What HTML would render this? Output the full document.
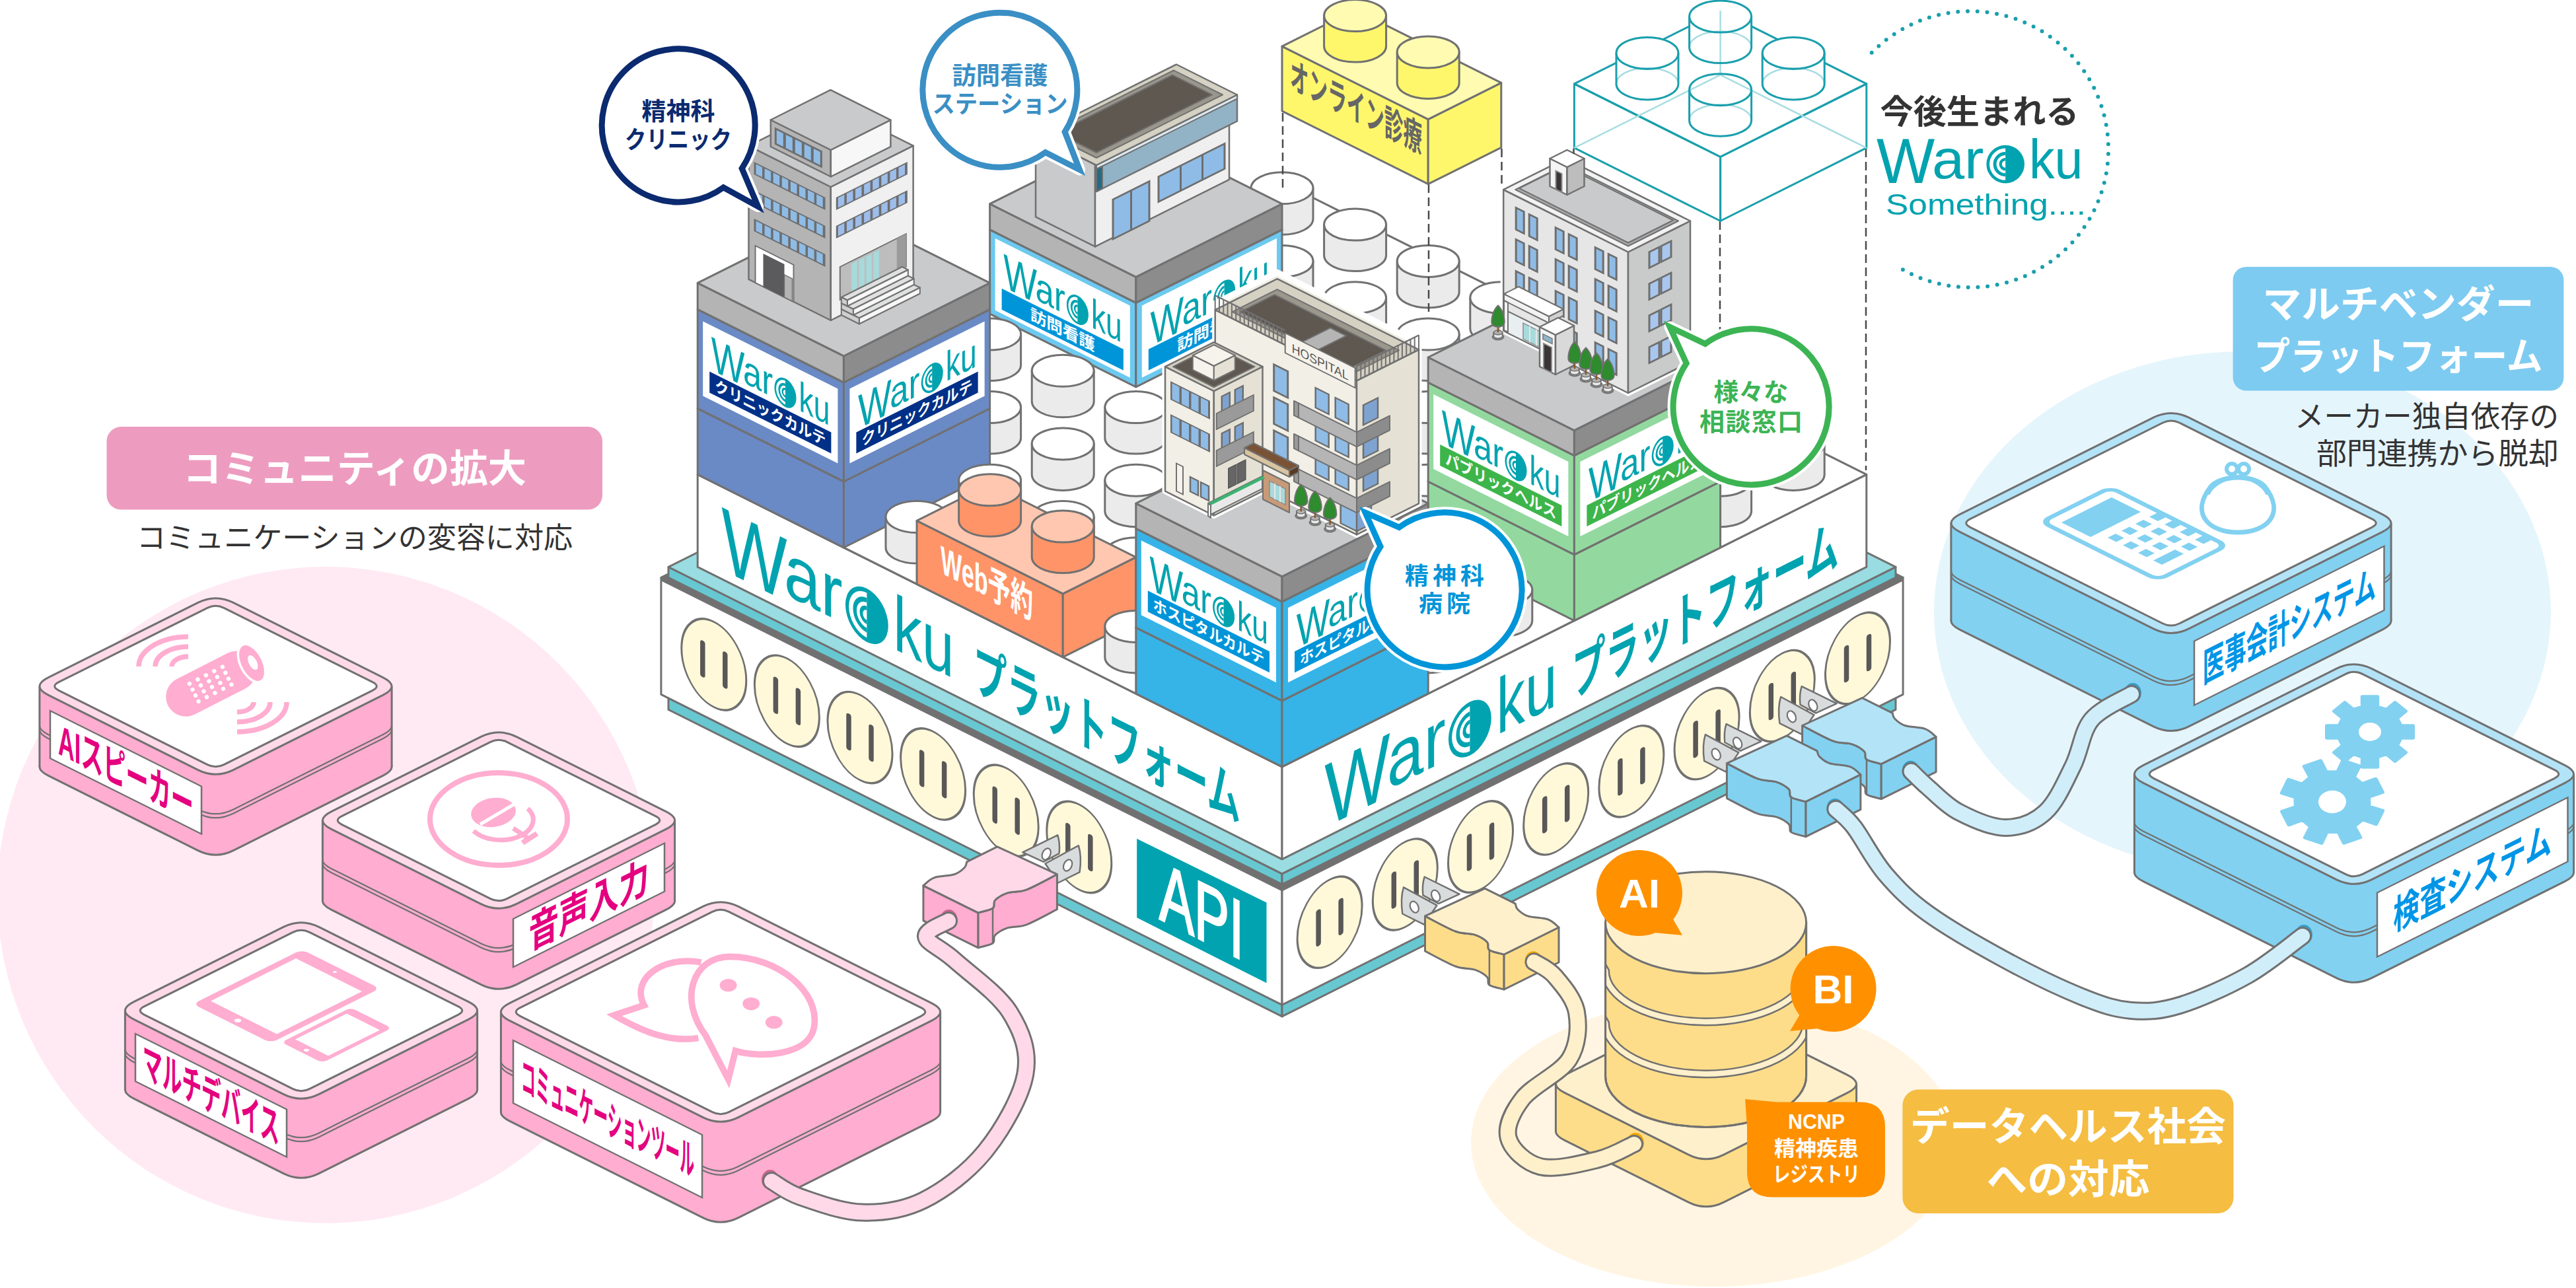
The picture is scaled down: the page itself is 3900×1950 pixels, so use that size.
<!DOCTYPE html>
<html lang="ja"><head><meta charset="utf-8"><title>Waroku platform</title>
<style>
html,body{margin:0;padding:0;background:#fff;}
body{width:3900px;height:1950px;overflow:hidden;}
svg{display:block;}
text{font-family:"Liberation Sans","Noto Sans CJK JP",sans-serif;}
.jp{font-family:"Liberation Sans","Noto Sans CJK JP",sans-serif;}
.b{font-weight:700;}
.m{font-weight:500;}
</style></head><body>
<svg width="3900" height="1950" viewBox="0 0 3900 1950">
<defs>
<g id="mark">
<circle r="100" fill="#00a3af"/>
<path d="M0,-84 A84,84 0 0 0 0,84 Z" fill="#fff"/>
<path d="M0,-56 A56,56 0 0 0 0,56" fill="none" stroke="#00a3af" stroke-width="17"/>
<path d="M0,-26 A26,26 0 0 0 0,26" fill="none" stroke="#00a3af" stroke-width="15"/>
</g>
</defs>
<rect width="3900" height="1950" fill="#fff"/>
<circle cx="493" cy="1355" r="497" fill="#ffeaf3"/>
<ellipse cx="3395" cy="926" rx="467" ry="394" fill="#e5f5fc"/>
<ellipse cx="2595" cy="1730" rx="368" ry="218" fill="#fff5e2"/>
<rect x="161.5" y="646" width="750.5" height="125.6" rx="22" fill="#ed9cc0"/>
<text x="537" y="730" font-size="58" fill="#fff" text-anchor="middle" class="b" textLength="520" lengthAdjust="spacingAndGlyphs" >コミュニティの拡大</text>
<text x="537" y="830" font-size="44" fill="#333" text-anchor="middle" textLength="660" lengthAdjust="spacingAndGlyphs" >コミュニケーションの変容に対応</text>
<rect x="3380.6" y="404" width="500.8" height="187.6" rx="20" fill="#7ecbf1"/>
<text x="3631" y="481" font-size="58" fill="#fff" text-anchor="middle" class="b" textLength="411" lengthAdjust="spacingAndGlyphs" >マルチベンダー</text>
<text x="3631" y="560" font-size="58" fill="#fff" text-anchor="middle" class="b" textLength="437" lengthAdjust="spacingAndGlyphs" >プラットフォーム</text>
<text x="3874" y="647" font-size="45" fill="#333" text-anchor="end" textLength="400" lengthAdjust="spacingAndGlyphs" >メーカー独自依存の</text>
<text x="3874" y="703" font-size="45" fill="#333" text-anchor="end" textLength="367" lengthAdjust="spacingAndGlyphs" >部門連携から脱却</text>
<rect x="2880.4" y="1649.5" width="501.1" height="187.5" rx="24" fill="#f5bd41"/>
<text x="3131" y="1727" font-size="60" fill="#fff" text-anchor="middle" class="b" textLength="478" lengthAdjust="spacingAndGlyphs" >データヘルス社会</text>
<text x="3131" y="1807" font-size="60" fill="#fff" text-anchor="middle" class="b" textLength="247" lengthAdjust="spacingAndGlyphs" >への対応</text>
<polygon points="1012,1051.4 1941,1515.9 1941,1538.9 1012,1074.4" fill="#68c8d2" stroke="#717171" stroke-width="3" stroke-linejoin="round" /><polygon points="1941,1515.9 2870,1051.4 2870,1074.4 1941,1538.9" fill="#68c8d2" stroke="#717171" stroke-width="3" stroke-linejoin="round" /><polygon points="1941,586.9 2870,1051.4 1941,1515.9 1012,1051.4" fill="#68c8d2" stroke="#717171" stroke-width="3" stroke-linejoin="round" /><polygon points="1000.9,874.4 1941,1344.4 1941,1521.4 1000.9,1051.4" fill="#fff" stroke="#717171" stroke-width="3" stroke-linejoin="round" /><polygon points="1941,1344.4 2881.1,874.4 2881.1,1051.4 1941,1521.4" fill="#fff" stroke="#717171" stroke-width="3" stroke-linejoin="round" /><polygon points="1941,404.4 2881.1,874.4 1941,1344.4 1000.9,874.4" fill="#717171" stroke="#717171" stroke-width="3" stroke-linejoin="round" /><polygon points="1000.9,874.4 1941,1344.4 1941,1349.4 1000.9,879.4" fill="#717171" /><polygon points="1941,1344.4 2881.1,874.4 2881.1,879.4 1941,1349.4" fill="#717171" /><g transform="matrix(1,0.5,0,1,1080.8,1006)"><ellipse rx="49" ry="64.5" fill="#fff9d9" stroke="#717171" stroke-width="3"/><line x1="-17" y1="-24" x2="-17" y2="24" stroke="#595757" stroke-width="7.5" stroke-linecap="round"/><line x1="17" y1="-24" x2="17" y2="24" stroke="#595757" stroke-width="7.5" stroke-linecap="round"/></g><g transform="matrix(1,0.5,0,1,1191.4,1061.3)"><ellipse rx="49" ry="64.5" fill="#fff9d9" stroke="#717171" stroke-width="3"/><line x1="-17" y1="-24" x2="-17" y2="24" stroke="#595757" stroke-width="7.5" stroke-linecap="round"/><line x1="17" y1="-24" x2="17" y2="24" stroke="#595757" stroke-width="7.5" stroke-linecap="round"/></g><g transform="matrix(1,0.5,0,1,1302,1116.6)"><ellipse rx="49" ry="64.5" fill="#fff9d9" stroke="#717171" stroke-width="3"/><line x1="-17" y1="-24" x2="-17" y2="24" stroke="#595757" stroke-width="7.5" stroke-linecap="round"/><line x1="17" y1="-24" x2="17" y2="24" stroke="#595757" stroke-width="7.5" stroke-linecap="round"/></g><g transform="matrix(1,0.5,0,1,1412.6,1171.9)"><ellipse rx="49" ry="64.5" fill="#fff9d9" stroke="#717171" stroke-width="3"/><line x1="-17" y1="-24" x2="-17" y2="24" stroke="#595757" stroke-width="7.5" stroke-linecap="round"/><line x1="17" y1="-24" x2="17" y2="24" stroke="#595757" stroke-width="7.5" stroke-linecap="round"/></g><g transform="matrix(1,0.5,0,1,1523.2,1227.2)"><ellipse rx="49" ry="64.5" fill="#fff9d9" stroke="#717171" stroke-width="3"/><line x1="-17" y1="-24" x2="-17" y2="24" stroke="#595757" stroke-width="7.5" stroke-linecap="round"/><line x1="17" y1="-24" x2="17" y2="24" stroke="#595757" stroke-width="7.5" stroke-linecap="round"/></g><g transform="matrix(1,0.5,0,1,1633.8,1282.5)"><ellipse rx="49" ry="64.5" fill="#fff9d9" stroke="#717171" stroke-width="3"/><line x1="-17" y1="-24" x2="-17" y2="24" stroke="#595757" stroke-width="7.5" stroke-linecap="round"/><line x1="17" y1="-24" x2="17" y2="24" stroke="#595757" stroke-width="7.5" stroke-linecap="round"/></g><g transform="matrix(1,-0.5,0,1,2812.5,996.5)"><ellipse rx="49" ry="64.5" fill="#fff9d9" stroke="#717171" stroke-width="3"/><line x1="-17" y1="-24" x2="-17" y2="24" stroke="#595757" stroke-width="7.5" stroke-linecap="round"/><line x1="17" y1="-24" x2="17" y2="24" stroke="#595757" stroke-width="7.5" stroke-linecap="round"/></g><g transform="matrix(1,-0.5,0,1,2698.3,1053.6)"><ellipse rx="49" ry="64.5" fill="#fff9d9" stroke="#717171" stroke-width="3"/><line x1="-17" y1="-24" x2="-17" y2="24" stroke="#595757" stroke-width="7.5" stroke-linecap="round"/><line x1="17" y1="-24" x2="17" y2="24" stroke="#595757" stroke-width="7.5" stroke-linecap="round"/></g><g transform="matrix(1,-0.5,0,1,2584.1,1110.7)"><ellipse rx="49" ry="64.5" fill="#fff9d9" stroke="#717171" stroke-width="3"/><line x1="-17" y1="-24" x2="-17" y2="24" stroke="#595757" stroke-width="7.5" stroke-linecap="round"/><line x1="17" y1="-24" x2="17" y2="24" stroke="#595757" stroke-width="7.5" stroke-linecap="round"/></g><g transform="matrix(1,-0.5,0,1,2469.9,1167.8)"><ellipse rx="49" ry="64.5" fill="#fff9d9" stroke="#717171" stroke-width="3"/><line x1="-17" y1="-24" x2="-17" y2="24" stroke="#595757" stroke-width="7.5" stroke-linecap="round"/><line x1="17" y1="-24" x2="17" y2="24" stroke="#595757" stroke-width="7.5" stroke-linecap="round"/></g><g transform="matrix(1,-0.5,0,1,2355.7,1224.9)"><ellipse rx="49" ry="64.5" fill="#fff9d9" stroke="#717171" stroke-width="3"/><line x1="-17" y1="-24" x2="-17" y2="24" stroke="#595757" stroke-width="7.5" stroke-linecap="round"/><line x1="17" y1="-24" x2="17" y2="24" stroke="#595757" stroke-width="7.5" stroke-linecap="round"/></g><g transform="matrix(1,-0.5,0,1,2241.5,1282)"><ellipse rx="49" ry="64.5" fill="#fff9d9" stroke="#717171" stroke-width="3"/><line x1="-17" y1="-24" x2="-17" y2="24" stroke="#595757" stroke-width="7.5" stroke-linecap="round"/><line x1="17" y1="-24" x2="17" y2="24" stroke="#595757" stroke-width="7.5" stroke-linecap="round"/></g><g transform="matrix(1,-0.5,0,1,2127.3,1339.1)"><ellipse rx="49" ry="64.5" fill="#fff9d9" stroke="#717171" stroke-width="3"/><line x1="-17" y1="-24" x2="-17" y2="24" stroke="#595757" stroke-width="7.5" stroke-linecap="round"/><line x1="17" y1="-24" x2="17" y2="24" stroke="#595757" stroke-width="7.5" stroke-linecap="round"/></g><g transform="matrix(1,-0.5,0,1,2013.1,1396.2)"><ellipse rx="49" ry="64.5" fill="#fff9d9" stroke="#717171" stroke-width="3"/><line x1="-17" y1="-24" x2="-17" y2="24" stroke="#595757" stroke-width="7.5" stroke-linecap="round"/><line x1="17" y1="-24" x2="17" y2="24" stroke="#595757" stroke-width="7.5" stroke-linecap="round"/></g><polygon points="1721.2,1269.8 1917.5,1366.6 1917.5,1488.2 1721.2,1389.3" fill="#00a3af" /><g transform="matrix(1,0.5,0,1,1755,1391)" ><text x="0" y="0" font-size="126" fill="#fff" text-anchor="start" textLength="128" lengthAdjust="spacingAndGlyphs" stroke="#fff" stroke-width="3">API</text></g><polygon points="1012,858.4 1941,1322.9 1941,1338.9 1012,874.4" fill="#68c8d2" stroke="#717171" stroke-width="3" stroke-linejoin="round" /><polygon points="1941,1322.9 2870,858.4 2870,874.4 1941,1338.9" fill="#68c8d2" stroke="#717171" stroke-width="3" stroke-linejoin="round" /><polygon points="1941,393.9 2870,858.4 1941,1322.9 1012,858.4" fill="#99dce1" stroke="#717171" stroke-width="3" stroke-linejoin="round" /><polygon points="1056.2,718.4 1941,1160.8 1941,1300.8 1056.2,858.4" fill="#fff" stroke="#717171" stroke-width="3" stroke-linejoin="round" /><polygon points="1941,1160.8 2825.8,718.4 2825.8,858.4 1941,1300.8" fill="#fff" stroke="#717171" stroke-width="3" stroke-linejoin="round" /><polygon points="1941,276 2825.8,718.4 1941,1160.8 1056.2,718.4" fill="#fff" stroke="#717171" stroke-width="3" stroke-linejoin="round" /><g transform="matrix(0.8,0.4,0,1,1093,852)" ><title>Waroku</title><text x="-0.8" y="10.1" font-size="136.9" fill="#00a3af" text-anchor="start" textLength="124.2" lengthAdjust="spacingAndGlyphs" >W</text><text x="117.5" y="0" font-size="118" fill="#00a3af" text-anchor="start" textLength="110.7" lengthAdjust="spacingAndGlyphs" >ar</text><use href="#mark" transform="translate(274.2,-30.2) scale(0.4056)"/><text x="324.5" y="0" font-size="118" fill="#00a3af" text-anchor="start" textLength="114.9" lengthAdjust="spacingAndGlyphs" >ku</text></g><g transform="matrix(1,0.5,0,1,1474,1043)" ><text x="0" y="0" font-size="88" fill="#00a3af" text-anchor="start" class="b" textLength="404" lengthAdjust="spacingAndGlyphs" >プラットフォーム</text></g><g transform="matrix(0.8,-0.4,0,1,2006,1243)" ><title>Waroku</title><text x="-0.8" y="10.1" font-size="136.9" fill="#00a3af" text-anchor="start" textLength="124.2" lengthAdjust="spacingAndGlyphs" >W</text><text x="117.5" y="0" font-size="118" fill="#00a3af" text-anchor="start" textLength="110.7" lengthAdjust="spacingAndGlyphs" >ar</text><use href="#mark" transform="translate(274.2,-30.2) scale(0.4056)"/><text x="324.5" y="0" font-size="118" fill="#00a3af" text-anchor="start" textLength="114.9" lengthAdjust="spacingAndGlyphs" >ku</text></g><g transform="matrix(1,-0.5,0,1,2380,1056)" ><text x="0" y="0" font-size="88" fill="#00a3af" text-anchor="start" class="b" textLength="404" lengthAdjust="spacingAndGlyphs" >プラットフォーム</text></g>
<path d="M1894,284.8 L1894,331.3 A47,24 0 0 0 1988,331.3 L1988,284.8 Z" fill="#ebebeb" stroke="#717171" stroke-width="3" stroke-linejoin="round"/><ellipse cx="1941" cy="284.8" rx="47" ry="24" fill="#fff" stroke="#717171" stroke-width="3" />
<path d="M1783.4,340.1 L1783.4,386.6 A47,24 0 0 0 1877.4,386.6 L1877.4,340.1 Z" fill="#ebebeb" stroke="#717171" stroke-width="3" stroke-linejoin="round"/><ellipse cx="1830.4" cy="340.1" rx="47" ry="24" fill="#fff" stroke="#717171" stroke-width="3" />
<path d="M2004.6,340.1 L2004.6,386.6 A47,24 0 0 0 2098.6,386.6 L2098.6,340.1 Z" fill="#ebebeb" stroke="#717171" stroke-width="3" stroke-linejoin="round"/><ellipse cx="2051.6" cy="340.1" rx="47" ry="24" fill="#fff" stroke="#717171" stroke-width="3" />
<path d="M1894,395.4 L1894,441.9 A47,24 0 0 0 1988,441.9 L1988,395.4 Z" fill="#ebebeb" stroke="#717171" stroke-width="3" stroke-linejoin="round"/><ellipse cx="1941" cy="395.4" rx="47" ry="24" fill="#fff" stroke="#717171" stroke-width="3" />
<path d="M2115.2,395.4 L2115.2,441.9 A47,24 0 0 0 2209.2,441.9 L2209.2,395.4 Z" fill="#ebebeb" stroke="#717171" stroke-width="3" stroke-linejoin="round"/><ellipse cx="2162.2" cy="395.4" rx="47" ry="24" fill="#fff" stroke="#717171" stroke-width="3" />
<path d="M2004.6,450.7 L2004.6,497.2 A47,24 0 0 0 2098.6,497.2 L2098.6,450.7 Z" fill="#ebebeb" stroke="#717171" stroke-width="3" stroke-linejoin="round"/><ellipse cx="2051.6" cy="450.7" rx="47" ry="24" fill="#fff" stroke="#717171" stroke-width="3" />
<path d="M2225.8,450.7 L2225.8,497.2 A47,24 0 0 0 2319.8,497.2 L2319.8,450.7 Z" fill="#ebebeb" stroke="#717171" stroke-width="3" stroke-linejoin="round"/><ellipse cx="2272.8" cy="450.7" rx="47" ry="24" fill="#fff" stroke="#717171" stroke-width="3" />
<path d="M2115.2,506 L2115.2,552.5 A47,24 0 0 0 2209.2,552.5 L2209.2,506 Z" fill="#ebebeb" stroke="#717171" stroke-width="3" stroke-linejoin="round"/><ellipse cx="2162.2" cy="506" rx="47" ry="24" fill="#fff" stroke="#717171" stroke-width="3" />
<path d="M2336.4,506 L2336.4,552.5 A47,24 0 0 0 2430.4,552.5 L2430.4,506 Z" fill="#ebebeb" stroke="#717171" stroke-width="3" stroke-linejoin="round"/><ellipse cx="2383.4" cy="506" rx="47" ry="24" fill="#fff" stroke="#717171" stroke-width="3" />
<path d="M2225.8,561.3 L2225.8,607.8 A47,24 0 0 0 2319.8,607.8 L2319.8,561.3 Z" fill="#ebebeb" stroke="#717171" stroke-width="3" stroke-linejoin="round"/><ellipse cx="2272.8" cy="561.3" rx="47" ry="24" fill="#fff" stroke="#717171" stroke-width="3" />
<path d="M2447,561.3 L2447,607.8 A47,24 0 0 0 2541,607.8 L2541,561.3 Z" fill="#ebebeb" stroke="#717171" stroke-width="3" stroke-linejoin="round"/><ellipse cx="2494" cy="561.3" rx="47" ry="24" fill="#fff" stroke="#717171" stroke-width="3" />
<path d="M2336.4,616.6 L2336.4,663.1 A47,24 0 0 0 2430.4,663.1 L2430.4,616.6 Z" fill="#ebebeb" stroke="#717171" stroke-width="3" stroke-linejoin="round"/><ellipse cx="2383.4" cy="616.6" rx="47" ry="24" fill="#fff" stroke="#717171" stroke-width="3" />
<path d="M2557.6,616.6 L2557.6,663.1 A47,24 0 0 0 2651.6,663.1 L2651.6,616.6 Z" fill="#ebebeb" stroke="#717171" stroke-width="3" stroke-linejoin="round"/><ellipse cx="2604.6" cy="616.6" rx="47" ry="24" fill="#fff" stroke="#717171" stroke-width="3" />
<path d="M2447,671.9 L2447,718.4 A47,24 0 0 0 2541,718.4 L2541,671.9 Z" fill="#ebebeb" stroke="#717171" stroke-width="3" stroke-linejoin="round"/><ellipse cx="2494" cy="671.9" rx="47" ry="24" fill="#fff" stroke="#717171" stroke-width="3" />
<path d="M2668.2,671.9 L2668.2,718.4 A47,24 0 0 0 2762.2,718.4 L2762.2,671.9 Z" fill="#ebebeb" stroke="#717171" stroke-width="3" stroke-linejoin="round"/><ellipse cx="2715.2" cy="671.9" rx="47" ry="24" fill="#fff" stroke="#717171" stroke-width="3" />
<path d="M2557.6,727.2 L2557.6,773.7 A47,24 0 0 0 2651.6,773.7 L2651.6,727.2 Z" fill="#ebebeb" stroke="#717171" stroke-width="3" stroke-linejoin="round"/><ellipse cx="2604.6" cy="727.2" rx="47" ry="24" fill="#fff" stroke="#717171" stroke-width="3" />
<polygon points="1498.6,347.7 1719.8,458.3 1719.8,585.8 1498.6,475.2" fill="#6cc9f0" stroke="#717171" stroke-width="3" stroke-linejoin="round" /><polygon points="1719.8,458.3 1941,347.7 1941,475.2 1719.8,585.8" fill="#6cc9f0" stroke="#717171" stroke-width="3" stroke-linejoin="round" /><polygon points="1719.8,237.1 1941,347.7 1719.8,458.3 1498.6,347.7" fill="#6cc9f0" stroke="#717171" stroke-width="3" stroke-linejoin="round" /><polygon points="1498.6,308.7 1719.8,419.3 1719.8,458.3 1498.6,347.7" fill="#b4b4b5" stroke="#717171" stroke-width="3" stroke-linejoin="round" /><polygon points="1719.8,419.3 1941,308.7 1941,347.7 1719.8,458.3" fill="#8c8c8c" stroke="#717171" stroke-width="3" stroke-linejoin="round" /><polygon points="1719.8,198.1 1941,308.7 1719.8,419.3 1498.6,308.7" fill="#c9cacb" stroke="#717171" stroke-width="3" stroke-linejoin="round" /><g transform="matrix(1,0.5,0,1,1506.6,360.7)" ><rect x="0" y="0" width="204.2" height="109" fill="#fff"/><g transform="matrix(0.7657,0,0,1,13,62)" ><title>Waroku</title><text x="-0.5" y="5.4" font-size="72.9" fill="#00a3af" text-anchor="start" textLength="66.2" lengthAdjust="spacingAndGlyphs" >W</text><text x="62.5" y="0" font-size="62.8" fill="#00a3af" text-anchor="start" textLength="59" lengthAdjust="spacingAndGlyphs" >ar</text><use href="#mark" transform="translate(146,-16.1) scale(0.216)"/><text x="172.8" y="0" font-size="62.8" fill="#00a3af" text-anchor="start" textLength="61.2" lengthAdjust="spacingAndGlyphs" >ku</text></g><rect x="10" y="71" width="184.2" height="32" fill="#0095d9"/><text x="102.1" y="96" font-size="24" fill="#fff" text-anchor="middle" class="b" textLength="98" lengthAdjust="spacingAndGlyphs" >訪問看護</text></g><g transform="matrix(1,-0.5,0,1,1728.8,462.8)" ><rect x="0" y="0" width="204.2" height="109" fill="#fff"/><g transform="matrix(0.7657,0,0,1,13,62)" ><title>Waroku</title><text x="-0.5" y="5.4" font-size="72.9" fill="#00a3af" text-anchor="start" textLength="66.2" lengthAdjust="spacingAndGlyphs" >W</text><text x="62.5" y="0" font-size="62.8" fill="#00a3af" text-anchor="start" textLength="59" lengthAdjust="spacingAndGlyphs" >ar</text><use href="#mark" transform="translate(146,-16.1) scale(0.216)"/><text x="172.8" y="0" font-size="62.8" fill="#00a3af" text-anchor="start" textLength="61.2" lengthAdjust="spacingAndGlyphs" >ku</text></g><rect x="10" y="71" width="184.2" height="32" fill="#0095d9"/><text x="102.1" y="96" font-size="24" fill="#fff" text-anchor="middle" class="b" textLength="98" lengthAdjust="spacingAndGlyphs" >訪問看護</text></g><polygon points="1568,204.4 1658,249.4 1658,373.4 1568,328.4" fill="#c9cacb" stroke="#717171" stroke-width="2.5" stroke-linejoin="round" /><polygon points="1658,249.4 1861,147.9 1861,271.9 1658,373.4" fill="#efefef" stroke="#717171" stroke-width="2.5" stroke-linejoin="round" /><g transform="matrix(1,-0.5,0,1,1658,249.4)" ><rect x="27" y="66" width="55" height="60" fill="#8fbce6" stroke="#6e6e6e" stroke-width="3"/><rect x="53" y="66" width="3" height="60" fill="#6e6e6e"/><rect x="96" y="66" width="100" height="38" fill="#8fbce6" stroke="#6e6e6e" stroke-width="3"/><rect x="128" y="66" width="3" height="38" fill="#6e6e6e"/><rect x="161" y="66" width="3" height="38" fill="#6e6e6e"/></g><polygon points="1660,250 1873,143.5 1873,183.5 1660,290" fill="#92b2c6" stroke="#717171" stroke-width="2.5" stroke-linejoin="round" /><polygon points="1660,250 1873,143.5 1873,149.5 1660,256" fill="#dce9f1" stroke="#717171" stroke-width="2" stroke-linejoin="round" /><polygon points="1660,256 1669,251.5 1669,285.5 1660,290" fill="#246b85" stroke="#717171" stroke-width="2" stroke-linejoin="round" /><polygon points="1568,204 1781,97.5 1873,143.5 1660,250" fill="#d5d1c3" stroke="#717171" stroke-width="2.5" stroke-linejoin="round" /><polygon points="1586,202 1777,106.5 1851,143.5 1660,239" fill="#9b978c" stroke="#717171" stroke-width="2" stroke-linejoin="round" /><polygon points="1600,201 1775,113.5 1835,143.5 1660,231" fill="#5f5851" stroke="#717171" stroke-width="2" stroke-linejoin="round" />
<path d="M1451.6,506 L1451.6,552.5 A47,24 0 0 0 1545.6,552.5 L1545.6,506 Z" fill="#ebebeb" stroke="#717171" stroke-width="3" stroke-linejoin="round"/><ellipse cx="1498.6" cy="506" rx="47" ry="24" fill="#fff" stroke="#717171" stroke-width="3" />
<path d="M1341,561.3 L1341,607.8 A47,24 0 0 0 1435,607.8 L1435,561.3 Z" fill="#ebebeb" stroke="#717171" stroke-width="3" stroke-linejoin="round"/><ellipse cx="1388" cy="561.3" rx="47" ry="24" fill="#fff" stroke="#717171" stroke-width="3" />
<path d="M1562.2,561.3 L1562.2,607.8 A47,24 0 0 0 1656.2,607.8 L1656.2,561.3 Z" fill="#ebebeb" stroke="#717171" stroke-width="3" stroke-linejoin="round"/><ellipse cx="1609.2" cy="561.3" rx="47" ry="24" fill="#fff" stroke="#717171" stroke-width="3" />
<path d="M1451.6,616.6 L1451.6,663.1 A47,24 0 0 0 1545.6,663.1 L1545.6,616.6 Z" fill="#ebebeb" stroke="#717171" stroke-width="3" stroke-linejoin="round"/><ellipse cx="1498.6" cy="616.6" rx="47" ry="24" fill="#fff" stroke="#717171" stroke-width="3" />
<path d="M1894,506 L1894,552.5 A47,24 0 0 0 1988,552.5 L1988,506 Z" fill="#ebebeb" stroke="#717171" stroke-width="3" stroke-linejoin="round"/><ellipse cx="1941" cy="506" rx="47" ry="24" fill="#fff" stroke="#717171" stroke-width="3" />
<path d="M1783.4,561.3 L1783.4,607.8 A47,24 0 0 0 1877.4,607.8 L1877.4,561.3 Z" fill="#ebebeb" stroke="#717171" stroke-width="3" stroke-linejoin="round"/><ellipse cx="1830.4" cy="561.3" rx="47" ry="24" fill="#fff" stroke="#717171" stroke-width="3" />
<path d="M1672.8,616.6 L1672.8,663.1 A47,24 0 0 0 1766.8,663.1 L1766.8,616.6 Z" fill="#ebebeb" stroke="#717171" stroke-width="3" stroke-linejoin="round"/><ellipse cx="1719.8" cy="616.6" rx="47" ry="24" fill="#fff" stroke="#717171" stroke-width="3" />
<path d="M1562.2,671.9 L1562.2,718.4 A47,24 0 0 0 1656.2,718.4 L1656.2,671.9 Z" fill="#ebebeb" stroke="#717171" stroke-width="3" stroke-linejoin="round"/><ellipse cx="1609.2" cy="671.9" rx="47" ry="24" fill="#fff" stroke="#717171" stroke-width="3" />
<path d="M2004.6,561.3 L2004.6,607.8 A47,24 0 0 0 2098.6,607.8 L2098.6,561.3 Z" fill="#ebebeb" stroke="#717171" stroke-width="3" stroke-linejoin="round"/><ellipse cx="2051.6" cy="561.3" rx="47" ry="24" fill="#fff" stroke="#717171" stroke-width="3" />
<path d="M1894,616.6 L1894,663.1 A47,24 0 0 0 1988,663.1 L1988,616.6 Z" fill="#ebebeb" stroke="#717171" stroke-width="3" stroke-linejoin="round"/><ellipse cx="1941" cy="616.6" rx="47" ry="24" fill="#fff" stroke="#717171" stroke-width="3" />
<path d="M1783.4,671.9 L1783.4,718.4 A47,24 0 0 0 1877.4,718.4 L1877.4,671.9 Z" fill="#ebebeb" stroke="#717171" stroke-width="3" stroke-linejoin="round"/><ellipse cx="1830.4" cy="671.9" rx="47" ry="24" fill="#fff" stroke="#717171" stroke-width="3" />
<path d="M1672.8,727.2 L1672.8,773.7 A47,24 0 0 0 1766.8,773.7 L1766.8,727.2 Z" fill="#ebebeb" stroke="#717171" stroke-width="3" stroke-linejoin="round"/><ellipse cx="1719.8" cy="727.2" rx="47" ry="24" fill="#fff" stroke="#717171" stroke-width="3" />
<path d="M2115.2,616.6 L2115.2,663.1 A47,24 0 0 0 2209.2,663.1 L2209.2,616.6 Z" fill="#ebebeb" stroke="#717171" stroke-width="3" stroke-linejoin="round"/><ellipse cx="2162.2" cy="616.6" rx="47" ry="24" fill="#fff" stroke="#717171" stroke-width="3" />
<path d="M2004.6,671.9 L2004.6,718.4 A47,24 0 0 0 2098.6,718.4 L2098.6,671.9 Z" fill="#ebebeb" stroke="#717171" stroke-width="3" stroke-linejoin="round"/><ellipse cx="2051.6" cy="671.9" rx="47" ry="24" fill="#fff" stroke="#717171" stroke-width="3" />
<path d="M1894,727.2 L1894,773.7 A47,24 0 0 0 1988,773.7 L1988,727.2 Z" fill="#ebebeb" stroke="#717171" stroke-width="3" stroke-linejoin="round"/><ellipse cx="1941" cy="727.2" rx="47" ry="24" fill="#fff" stroke="#717171" stroke-width="3" />
<path d="M1783.4,782.5 L1783.4,829 A47,24 0 0 0 1877.4,829 L1877.4,782.5 Z" fill="#ebebeb" stroke="#717171" stroke-width="3" stroke-linejoin="round"/><ellipse cx="1830.4" cy="782.5" rx="47" ry="24" fill="#fff" stroke="#717171" stroke-width="3" />
<path d="M2225.8,671.9 L2225.8,718.4 A47,24 0 0 0 2319.8,718.4 L2319.8,671.9 Z" fill="#ebebeb" stroke="#717171" stroke-width="3" stroke-linejoin="round"/><ellipse cx="2272.8" cy="671.9" rx="47" ry="24" fill="#fff" stroke="#717171" stroke-width="3" />
<path d="M2115.2,727.2 L2115.2,773.7 A47,24 0 0 0 2209.2,773.7 L2209.2,727.2 Z" fill="#ebebeb" stroke="#717171" stroke-width="3" stroke-linejoin="round"/><ellipse cx="2162.2" cy="727.2" rx="47" ry="24" fill="#fff" stroke="#717171" stroke-width="3" />
<path d="M2004.6,782.5 L2004.6,829 A47,24 0 0 0 2098.6,829 L2098.6,782.5 Z" fill="#ebebeb" stroke="#717171" stroke-width="3" stroke-linejoin="round"/><ellipse cx="2051.6" cy="782.5" rx="47" ry="24" fill="#fff" stroke="#717171" stroke-width="3" />
<path d="M1894,837.8 L1894,884.3 A47,24 0 0 0 1988,884.3 L1988,837.8 Z" fill="#ebebeb" stroke="#717171" stroke-width="3" stroke-linejoin="round"/><ellipse cx="1941" cy="837.8" rx="47" ry="24" fill="#fff" stroke="#717171" stroke-width="3" />
<polygon points="1056.2,618.4 1277.4,729 1277.4,829 1056.2,718.4" fill="#6a8ac6" stroke="#717171" stroke-width="3" stroke-linejoin="round" /><polygon points="1277.4,729 1498.6,618.4 1498.6,718.4 1277.4,829" fill="#6a8ac6" stroke="#717171" stroke-width="3" stroke-linejoin="round" /><polygon points="1277.4,507.8 1498.6,618.4 1277.4,729 1056.2,618.4" fill="#6a8ac6" stroke="#717171" stroke-width="3" stroke-linejoin="round" /><polygon points="1056.2,468.4 1277.4,579 1277.4,729 1056.2,618.4" fill="#6a8ac6" stroke="#717171" stroke-width="3" stroke-linejoin="round" /><polygon points="1277.4,579 1498.6,468.4 1498.6,618.4 1277.4,729" fill="#6a8ac6" stroke="#717171" stroke-width="3" stroke-linejoin="round" /><polygon points="1277.4,357.8 1498.6,468.4 1277.4,579 1056.2,468.4" fill="#6a8ac6" stroke="#717171" stroke-width="3" stroke-linejoin="round" /><polygon points="1056.2,428.4 1277.4,539 1277.4,579 1056.2,468.4" fill="#b4b4b5" stroke="#717171" stroke-width="3" stroke-linejoin="round" /><polygon points="1277.4,539 1498.6,428.4 1498.6,468.4 1277.4,579" fill="#8c8c8c" stroke="#717171" stroke-width="3" stroke-linejoin="round" /><polygon points="1277.4,317.8 1498.6,428.4 1277.4,539 1056.2,428.4" fill="#c9cacb" stroke="#717171" stroke-width="3" stroke-linejoin="round" /><g transform="matrix(1,0.5,0,1,1064.2,486.4)" ><rect x="0" y="0" width="204.2" height="113" fill="#fff"/><g transform="matrix(0.7657,0,0,1,13,62)" ><title>Waroku</title><text x="-0.5" y="5.4" font-size="72.9" fill="#00a3af" text-anchor="start" textLength="66.2" lengthAdjust="spacingAndGlyphs" >W</text><text x="62.5" y="0" font-size="62.8" fill="#00a3af" text-anchor="start" textLength="59" lengthAdjust="spacingAndGlyphs" >ar</text><use href="#mark" transform="translate(146,-16.1) scale(0.216)"/><text x="172.8" y="0" font-size="62.8" fill="#00a3af" text-anchor="start" textLength="61.2" lengthAdjust="spacingAndGlyphs" >ku</text></g><rect x="10" y="71" width="184.2" height="32" fill="#003087"/><text x="102.1" y="96" font-size="24" fill="#fff" text-anchor="middle" class="b" textLength="168.2" lengthAdjust="spacingAndGlyphs" >クリニックカルテ</text></g><g transform="matrix(1,-0.5,0,1,1286.4,588.5)" ><rect x="0" y="0" width="204.2" height="113" fill="#fff"/><g transform="matrix(0.7657,0,0,1,13,62)" ><title>Waroku</title><text x="-0.5" y="5.4" font-size="72.9" fill="#00a3af" text-anchor="start" textLength="66.2" lengthAdjust="spacingAndGlyphs" >W</text><text x="62.5" y="0" font-size="62.8" fill="#00a3af" text-anchor="start" textLength="59" lengthAdjust="spacingAndGlyphs" >ar</text><use href="#mark" transform="translate(146,-16.1) scale(0.216)"/><text x="172.8" y="0" font-size="62.8" fill="#00a3af" text-anchor="start" textLength="61.2" lengthAdjust="spacingAndGlyphs" >ku</text></g><rect x="10" y="71" width="184.2" height="32" fill="#003087"/><text x="102.1" y="96" font-size="24" fill="#fff" text-anchor="middle" class="b" textLength="168.2" lengthAdjust="spacingAndGlyphs" >クリニックカルテ</text></g><polygon points="1133.5,220.9 1257.8,283 1257.8,485 1133.5,422.9" fill="#b4b4b5" stroke="#717171" stroke-width="2.5" stroke-linejoin="round" /><polygon points="1257.8,283 1382.6,220.6 1382.6,422.6 1257.8,485" fill="#f0f0f0" stroke="#717171" stroke-width="2.5" stroke-linejoin="round" /><polygon points="1133.5,220.9 1258.3,158.5 1382.6,220.6 1257.8,283" fill="#c9cacb" stroke="#717171" stroke-width="2.5" stroke-linejoin="round" /><g transform="matrix(1,0.5,0,1,1133.5,220.9)" ><rect x="8" y="20" width="108" height="19" fill="#6e6e6e"/><rect x="11" y="22" width="9.5" height="15" fill="#8fbce6"/><rect x="24.1" y="22" width="9.5" height="15" fill="#8fbce6"/><rect x="37.2" y="22" width="9.5" height="15" fill="#8fbce6"/><rect x="50.3" y="22" width="9.5" height="15" fill="#8fbce6"/><rect x="63.4" y="22" width="9.5" height="15" fill="#8fbce6"/><rect x="76.5" y="22" width="9.5" height="15" fill="#8fbce6"/><rect x="89.6" y="22" width="9.5" height="15" fill="#8fbce6"/><rect x="102.7" y="22" width="9.5" height="15" fill="#8fbce6"/><rect x="8" y="63" width="108" height="19" fill="#6e6e6e"/><rect x="11" y="65" width="9.5" height="15" fill="#8fbce6"/><rect x="24.1" y="65" width="9.5" height="15" fill="#8fbce6"/><rect x="37.2" y="65" width="9.5" height="15" fill="#8fbce6"/><rect x="50.3" y="65" width="9.5" height="15" fill="#8fbce6"/><rect x="63.4" y="65" width="9.5" height="15" fill="#8fbce6"/><rect x="76.5" y="65" width="9.5" height="15" fill="#8fbce6"/><rect x="89.6" y="65" width="9.5" height="15" fill="#8fbce6"/><rect x="102.7" y="65" width="9.5" height="15" fill="#8fbce6"/><rect x="8" y="106" width="108" height="19" fill="#6e6e6e"/><rect x="11" y="108" width="9.5" height="15" fill="#8fbce6"/><rect x="24.1" y="108" width="9.5" height="15" fill="#8fbce6"/><rect x="37.2" y="108" width="9.5" height="15" fill="#8fbce6"/><rect x="50.3" y="108" width="9.5" height="15" fill="#8fbce6"/><rect x="63.4" y="108" width="9.5" height="15" fill="#8fbce6"/><rect x="76.5" y="108" width="9.5" height="15" fill="#8fbce6"/><rect x="89.6" y="108" width="9.5" height="15" fill="#8fbce6"/><rect x="102.7" y="108" width="9.5" height="15" fill="#8fbce6"/><rect x="10" y="146" width="58" height="56" fill="#fff" stroke="#717171" stroke-width="2"/><rect x="22" y="152" width="32" height="50" fill="#5b5a5c"/><rect x="54" y="168" width="12" height="34" fill="#b4b4b5" stroke="#717171" stroke-width="1.5"/></g><g transform="matrix(1,-0.5,0,1,1257.8,283)" ><rect x="8" y="20" width="108" height="19" fill="#6e6e6e"/><rect x="11" y="22" width="9.5" height="15" fill="#9dbdea"/><rect x="24.1" y="22" width="9.5" height="15" fill="#9dbdea"/><rect x="37.2" y="22" width="9.5" height="15" fill="#9dbdea"/><rect x="50.3" y="22" width="9.5" height="15" fill="#9dbdea"/><rect x="63.4" y="22" width="9.5" height="15" fill="#9dbdea"/><rect x="76.5" y="22" width="9.5" height="15" fill="#9dbdea"/><rect x="89.6" y="22" width="9.5" height="15" fill="#9dbdea"/><rect x="102.7" y="22" width="9.5" height="15" fill="#9dbdea"/><rect x="8" y="63" width="108" height="19" fill="#6e6e6e"/><rect x="11" y="65" width="9.5" height="15" fill="#9dbdea"/><rect x="24.1" y="65" width="9.5" height="15" fill="#9dbdea"/><rect x="37.2" y="65" width="9.5" height="15" fill="#9dbdea"/><rect x="50.3" y="65" width="9.5" height="15" fill="#9dbdea"/><rect x="63.4" y="65" width="9.5" height="15" fill="#9dbdea"/><rect x="76.5" y="65" width="9.5" height="15" fill="#9dbdea"/><rect x="89.6" y="65" width="9.5" height="15" fill="#9dbdea"/><rect x="102.7" y="65" width="9.5" height="15" fill="#9dbdea"/><rect x="14" y="128" width="100" height="50" fill="#bdbdbe" stroke="#717171" stroke-width="2"/><rect x="30" y="132" width="44" height="46" fill="#a8dadc"/><rect x="29" y="132" width="2.5" height="46" fill="#bdbdbe"/><rect x="40" y="132" width="2.5" height="46" fill="#bdbdbe"/><rect x="51" y="132" width="2.5" height="46" fill="#bdbdbe"/><rect x="62" y="132" width="2.5" height="46" fill="#bdbdbe"/><rect x="73" y="132" width="2.5" height="46" fill="#bdbdbe"/><rect x="100" y="128" width="14" height="50" fill="#9a9a9b"/></g><polygon points="1273.8,468 1365.8,422 1392.8,435.5 1300.8,481.5" fill="#dfe0e0" stroke="#717171" stroke-width="2" stroke-linejoin="round" /><polygon points="1300.8,481.5 1392.8,435.5 1392.8,444.5 1300.8,490.5" fill="#f7f7f7" stroke="#717171" stroke-width="2" stroke-linejoin="round" /><polygon points="1273.8,468 1300.8,481.5 1300.8,490.5 1273.8,477" fill="#cfcfd0" stroke="#717171" stroke-width="2" stroke-linejoin="round" /><polygon points="1273.8,459 1365.8,413 1383.8,422 1291.8,468" fill="#dfe0e0" stroke="#717171" stroke-width="2" stroke-linejoin="round" /><polygon points="1291.8,468 1383.8,422 1383.8,431 1291.8,477" fill="#f7f7f7" stroke="#717171" stroke-width="2" stroke-linejoin="round" /><polygon points="1273.8,459 1291.8,468 1291.8,477 1273.8,468" fill="#cfcfd0" stroke="#717171" stroke-width="2" stroke-linejoin="round" /><polygon points="1273.8,450 1365.8,404 1374.8,408.5 1282.8,454.5" fill="#dfe0e0" stroke="#717171" stroke-width="2" stroke-linejoin="round" /><polygon points="1282.8,454.5 1374.8,408.5 1374.8,417.5 1282.8,463.5" fill="#f7f7f7" stroke="#717171" stroke-width="2" stroke-linejoin="round" /><polygon points="1273.8,450 1282.8,454.5 1282.8,463.5 1273.8,459" fill="#cfcfd0" stroke="#717171" stroke-width="2" stroke-linejoin="round" /><polygon points="1166.8,181.5 1257.8,227 1257.8,267.5 1166.8,222" fill="#b4b4b5" stroke="#717171" stroke-width="2.5" stroke-linejoin="round" /><polygon points="1257.8,227 1348.4,181.7 1348.4,222.2 1257.8,267.5" fill="#f7f7f7" stroke="#717171" stroke-width="2.5" stroke-linejoin="round" /><polygon points="1166.8,181.5 1257.4,136.2 1348.4,181.7 1257.8,227" fill="#c9cacb" stroke="#717171" stroke-width="2.5" stroke-linejoin="round" /><g transform="matrix(1,0.5,0,1,1166.8,181.5)" ><rect x="6" y="8" width="72" height="26" fill="#6e6e6e"/><rect x="9" y="11" width="10" height="20" fill="#8fbce6"/><rect x="23" y="11" width="10" height="20" fill="#8fbce6"/><rect x="37" y="11" width="10" height="20" fill="#8fbce6"/><rect x="51" y="11" width="10" height="20" fill="#8fbce6"/><rect x="65" y="11" width="10" height="20" fill="#8fbce6"/></g>
<polygon points="2162.2,729 2383.4,839.6 2383.4,939.6 2162.2,829" fill="#93d99f" stroke="#717171" stroke-width="3" stroke-linejoin="round" /><polygon points="2383.4,839.6 2604.6,729 2604.6,829 2383.4,939.6" fill="#93d99f" stroke="#717171" stroke-width="3" stroke-linejoin="round" /><polygon points="2383.4,618.4 2604.6,729 2383.4,839.6 2162.2,729" fill="#93d99f" stroke="#717171" stroke-width="3" stroke-linejoin="round" /><polygon points="2162.2,579 2383.4,689.6 2383.4,839.6 2162.2,729" fill="#93d99f" stroke="#717171" stroke-width="3" stroke-linejoin="round" /><polygon points="2383.4,689.6 2604.6,579 2604.6,729 2383.4,839.6" fill="#93d99f" stroke="#717171" stroke-width="3" stroke-linejoin="round" /><polygon points="2383.4,468.4 2604.6,579 2383.4,689.6 2162.2,579" fill="#93d99f" stroke="#717171" stroke-width="3" stroke-linejoin="round" /><polygon points="2162.2,541 2383.4,651.6 2383.4,689.6 2162.2,579" fill="#b4b4b5" stroke="#717171" stroke-width="3" stroke-linejoin="round" /><polygon points="2383.4,651.6 2604.6,541 2604.6,579 2383.4,689.6" fill="#8c8c8c" stroke="#717171" stroke-width="3" stroke-linejoin="round" /><polygon points="2383.4,430.4 2604.6,541 2383.4,651.6 2162.2,541" fill="#c9cacb" stroke="#717171" stroke-width="3" stroke-linejoin="round" /><g transform="matrix(1,0.5,0,1,2170.2,597)" ><rect x="0" y="0" width="204.2" height="113" fill="#fff"/><g transform="matrix(0.7657,0,0,1,13,62)" ><title>Waroku</title><text x="-0.5" y="5.4" font-size="72.9" fill="#00a3af" text-anchor="start" textLength="66.2" lengthAdjust="spacingAndGlyphs" >W</text><text x="62.5" y="0" font-size="62.8" fill="#00a3af" text-anchor="start" textLength="59" lengthAdjust="spacingAndGlyphs" >ar</text><use href="#mark" transform="translate(146,-16.1) scale(0.216)"/><text x="172.8" y="0" font-size="62.8" fill="#00a3af" text-anchor="start" textLength="61.2" lengthAdjust="spacingAndGlyphs" >ku</text></g><rect x="10" y="71" width="184.2" height="32" fill="#3db54a"/><text x="102.1" y="96" font-size="24" fill="#fff" text-anchor="middle" class="b" textLength="168.2" lengthAdjust="spacingAndGlyphs" >パブリックヘルス</text></g><g transform="matrix(1,-0.5,0,1,2392.4,699.1)" ><rect x="0" y="0" width="204.2" height="113" fill="#fff"/><g transform="matrix(0.7657,0,0,1,13,62)" ><title>Waroku</title><text x="-0.5" y="5.4" font-size="72.9" fill="#00a3af" text-anchor="start" textLength="66.2" lengthAdjust="spacingAndGlyphs" >W</text><text x="62.5" y="0" font-size="62.8" fill="#00a3af" text-anchor="start" textLength="59" lengthAdjust="spacingAndGlyphs" >ar</text><use href="#mark" transform="translate(146,-16.1) scale(0.216)"/><text x="172.8" y="0" font-size="62.8" fill="#00a3af" text-anchor="start" textLength="61.2" lengthAdjust="spacingAndGlyphs" >ku</text></g><rect x="10" y="71" width="184.2" height="32" fill="#3db54a"/><text x="102.1" y="96" font-size="24" fill="#fff" text-anchor="middle" class="b" textLength="168.2" lengthAdjust="spacingAndGlyphs" >パブリックヘルス</text></g><polygon points="2276.2,287.1 2465,381.5 2465,595 2276.2,500.6" fill="#e6e6e6" stroke="#fff" stroke-width="9" stroke-linejoin="round" /><polygon points="2465,381.5 2559,334.5 2559,548 2465,595" fill="#c9caca" stroke="#fff" stroke-width="9" stroke-linejoin="round" /><polygon points="2276.2,287.1 2370.2,240.1 2559,334.5 2465,381.5" fill="#f2f2f2" stroke="#fff" stroke-width="9" stroke-linejoin="round" /><polygon points="2276.2,287.1 2465,381.5 2465,595 2276.2,500.6" fill="#e6e6e6" stroke="#717171" stroke-width="2.5" stroke-linejoin="round" /><polygon points="2465,381.5 2559,334.5 2559,548 2465,595" fill="#c9caca" stroke="#717171" stroke-width="2.5" stroke-linejoin="round" /><polygon points="2276.2,287.1 2370.2,240.1 2559,334.5 2465,381.5" fill="#f2f2f2" stroke="#717171" stroke-width="2.5" stroke-linejoin="round" /><polygon points="2294.2,287.1 2370.2,249.1 2541,334.5 2465,372.5" fill="#a9a9aa" stroke="#717171" stroke-width="2" stroke-linejoin="round" /><polygon points="2300.2,285.1 2368.2,251.1 2533,333.5 2465,367.5" fill="#c9cacb" stroke="#717171" stroke-width="2" stroke-linejoin="round" /><polygon points="2346.5,240 2372.5,253 2372.5,295 2346.5,282" fill="#f4f4f4" stroke="#717171" stroke-width="2.5" stroke-linejoin="round" /><polygon points="2372.5,253 2398.5,240 2398.5,282 2372.5,295" fill="#bdbdbe" stroke="#717171" stroke-width="2.5" stroke-linejoin="round" /><polygon points="2346.5,240 2372.5,227 2398.5,240 2372.5,253" fill="#fff" stroke="#717171" stroke-width="2.5" stroke-linejoin="round" /><g transform="matrix(1,0.5,0,1,2346.5,240)" ><rect x="9" y="14" width="9" height="28" fill="#3a3536" stroke="#8a8a8a" stroke-width="2"/></g><g transform="matrix(1,0.5,0,1,2276.2,287.1)" ><rect x="19" y="18" width="12" height="33" fill="#8fbce6" stroke="#6e6e6e" stroke-width="3"/><rect x="39" y="18" width="12" height="33" fill="#8fbce6" stroke="#6e6e6e" stroke-width="3"/><rect x="19" y="66" width="12" height="33" fill="#8fbce6" stroke="#6e6e6e" stroke-width="3"/><rect x="39" y="66" width="12" height="33" fill="#8fbce6" stroke="#6e6e6e" stroke-width="3"/><rect x="19" y="114" width="12" height="33" fill="#8fbce6" stroke="#6e6e6e" stroke-width="3"/><rect x="39" y="114" width="12" height="33" fill="#8fbce6" stroke="#6e6e6e" stroke-width="3"/><rect x="79" y="18" width="12" height="33" fill="#8fbce6" stroke="#6e6e6e" stroke-width="3"/><rect x="99" y="18" width="12" height="33" fill="#8fbce6" stroke="#6e6e6e" stroke-width="3"/><rect x="79" y="66" width="12" height="33" fill="#8fbce6" stroke="#6e6e6e" stroke-width="3"/><rect x="99" y="66" width="12" height="33" fill="#8fbce6" stroke="#6e6e6e" stroke-width="3"/><rect x="79" y="114" width="12" height="33" fill="#8fbce6" stroke="#6e6e6e" stroke-width="3"/><rect x="99" y="114" width="12" height="33" fill="#8fbce6" stroke="#6e6e6e" stroke-width="3"/><rect x="79" y="162" width="12" height="33" fill="#8fbce6" stroke="#6e6e6e" stroke-width="3"/><rect x="99" y="162" width="12" height="33" fill="#8fbce6" stroke="#6e6e6e" stroke-width="3"/><rect x="139" y="18" width="12" height="33" fill="#8fbce6" stroke="#6e6e6e" stroke-width="3"/><rect x="159" y="18" width="12" height="33" fill="#8fbce6" stroke="#6e6e6e" stroke-width="3"/><rect x="139" y="66" width="12" height="33" fill="#8fbce6" stroke="#6e6e6e" stroke-width="3"/><rect x="159" y="66" width="12" height="33" fill="#8fbce6" stroke="#6e6e6e" stroke-width="3"/><rect x="139" y="114" width="12" height="33" fill="#8fbce6" stroke="#6e6e6e" stroke-width="3"/><rect x="159" y="114" width="12" height="33" fill="#8fbce6" stroke="#6e6e6e" stroke-width="3"/><rect x="139" y="162" width="12" height="33" fill="#8fbce6" stroke="#6e6e6e" stroke-width="3"/><rect x="159" y="162" width="12" height="33" fill="#8fbce6" stroke="#6e6e6e" stroke-width="3"/></g><g transform="matrix(1,-0.5,0,1,2465,381.5)" ><rect x="32" y="16" width="15" height="24" fill="#a9c7ee" stroke="#6e6e6e" stroke-width="3"/><rect x="50" y="16" width="15" height="24" fill="#a9c7ee" stroke="#6e6e6e" stroke-width="3"/><rect x="32" y="64" width="15" height="24" fill="#a9c7ee" stroke="#6e6e6e" stroke-width="3"/><rect x="50" y="64" width="15" height="24" fill="#a9c7ee" stroke="#6e6e6e" stroke-width="3"/><rect x="32" y="112" width="15" height="24" fill="#a9c7ee" stroke="#6e6e6e" stroke-width="3"/><rect x="50" y="112" width="15" height="24" fill="#a9c7ee" stroke="#6e6e6e" stroke-width="3"/><rect x="32" y="160" width="15" height="24" fill="#a9c7ee" stroke="#6e6e6e" stroke-width="3"/><rect x="50" y="160" width="15" height="24" fill="#a9c7ee" stroke="#6e6e6e" stroke-width="3"/></g><polygon points="2280,470 2345,502 2345,535 2280,503" fill="#e9eef0" stroke="#717171" stroke-width="2" stroke-linejoin="round" /><g transform="matrix(1,0.5,0,1,2306,489)" ><rect x="0" y="0" width="30" height="24" fill="#a8dadc" stroke="#8a8a8a" stroke-width="1.5"/><rect x="9" y="0" width="2" height="24" fill="#e6e6e6"/><rect x="19" y="0" width="2" height="24" fill="#e6e6e6"/></g><polygon points="2277,445 2345,479 2345,489 2277,455" fill="#f2f2f2" stroke="#717171" stroke-width="2" stroke-linejoin="round" /><polygon points="2345,479 2367,468 2367,478 2345,489" fill="#d0d0d0" stroke="#717171" stroke-width="2" stroke-linejoin="round" /><polygon points="2277,445 2299,434 2367,468 2345,479" fill="#fff" stroke="#717171" stroke-width="2" stroke-linejoin="round" /><polygon points="2277,455 2277,500 2283,503 2283,458" fill="#f2f2f2" stroke="#717171" stroke-width="2" stroke-linejoin="round" /><polygon points="2331,495 2355,507 2355,567 2331,555" fill="#f4f4f4" stroke="#717171" stroke-width="2.5" stroke-linejoin="round" /><polygon points="2355,507 2383,493 2383,553 2355,567" fill="#d9d9d9" stroke="#717171" stroke-width="2.5" stroke-linejoin="round" /><polygon points="2331,495 2359,481 2383,493 2355,507" fill="#fff" stroke="#717171" stroke-width="2.5" stroke-linejoin="round" /><g transform="matrix(1,0.5,0,1,2331,495)" ><rect x="5" y="8" width="14" height="8" fill="#8fb5c9" stroke="#777" stroke-width="1.5"/><rect x="6" y="22" width="12" height="38" fill="#3a3536" stroke="#8a8a8a" stroke-width="2"/></g><ellipse cx="2384" cy="565.1" rx="8.5" ry="4.3" fill="#d9d9d9" stroke="#717171" stroke-width="2" /><path d="M2377.3,558.5 L2377.3,564.1 A6.6,3.3 0 0 0 2390.7,564.1 L2390.7,558.5 Z" fill="#e9e9e9" stroke="#717171" stroke-width="2"/><ellipse cx="2384" cy="558.5" rx="6.6" ry="3.3" fill="#b5b5b5" stroke="#717171" stroke-width="1.5" /><line x1="2384" y1="558.5" x2="2384" y2="549.9" stroke="#8a5a2b" stroke-width="2.5" /><path d="M2384,517.6 C2390.7,523.3 2394.4,536.6 2393.5,544.2 C2392.6,551.8 2375.4,551.8 2374.5,544.2 C2373.6,536.6 2377.3,523.3 2384,517.6 Z" fill="#2e8b2e" stroke="#717171" stroke-width="2"/><ellipse cx="2401" cy="574.1" rx="8.5" ry="4.3" fill="#d9d9d9" stroke="#717171" stroke-width="2" /><path d="M2394.3,567.5 L2394.3,573.1 A6.6,3.3 0 0 0 2407.7,573.1 L2407.7,567.5 Z" fill="#e9e9e9" stroke="#717171" stroke-width="2"/><ellipse cx="2401" cy="567.5" rx="6.6" ry="3.3" fill="#b5b5b5" stroke="#717171" stroke-width="1.5" /><line x1="2401" y1="567.5" x2="2401" y2="558.9" stroke="#8a5a2b" stroke-width="2.5" /><path d="M2401,526.6 C2407.7,532.3 2411.4,545.6 2410.5,553.2 C2409.6,560.8 2392.4,560.8 2391.5,553.2 C2390.6,545.6 2394.3,532.3 2401,526.6 Z" fill="#2e8b2e" stroke="#717171" stroke-width="2"/><ellipse cx="2417" cy="582.1" rx="8.5" ry="4.3" fill="#d9d9d9" stroke="#717171" stroke-width="2" /><path d="M2410.3,575.5 L2410.3,581.1 A6.6,3.3 0 0 0 2423.7,581.1 L2423.7,575.5 Z" fill="#e9e9e9" stroke="#717171" stroke-width="2"/><ellipse cx="2417" cy="575.5" rx="6.6" ry="3.3" fill="#b5b5b5" stroke="#717171" stroke-width="1.5" /><line x1="2417" y1="575.5" x2="2417" y2="566.9" stroke="#8a5a2b" stroke-width="2.5" /><path d="M2417,534.6 C2423.7,540.3 2427.4,553.6 2426.5,561.2 C2425.6,568.8 2408.4,568.8 2407.5,561.2 C2406.6,553.6 2410.3,540.3 2417,534.6 Z" fill="#2e8b2e" stroke="#717171" stroke-width="2"/><ellipse cx="2434" cy="591.1" rx="8.5" ry="4.3" fill="#d9d9d9" stroke="#717171" stroke-width="2" /><path d="M2427.3,584.5 L2427.3,590.1 A6.6,3.3 0 0 0 2440.7,590.1 L2440.7,584.5 Z" fill="#e9e9e9" stroke="#717171" stroke-width="2"/><ellipse cx="2434" cy="584.5" rx="6.6" ry="3.3" fill="#b5b5b5" stroke="#717171" stroke-width="1.5" /><line x1="2434" y1="584.5" x2="2434" y2="575.9" stroke="#8a5a2b" stroke-width="2.5" /><path d="M2434,543.6 C2440.7,549.3 2444.4,562.6 2443.5,570.2 C2442.6,577.8 2425.4,577.8 2424.5,570.2 C2423.6,562.6 2427.3,549.3 2434,543.6 Z" fill="#2e8b2e" stroke="#717171" stroke-width="2"/><ellipse cx="2268" cy="510.1" rx="8.5" ry="4.3" fill="#d9d9d9" stroke="#717171" stroke-width="2" /><path d="M2261.3,503.4 L2261.3,509.1 A6.6,3.3 0 0 0 2274.7,509.1 L2274.7,503.4 Z" fill="#e9e9e9" stroke="#717171" stroke-width="2"/><ellipse cx="2268" cy="503.4" rx="6.6" ry="3.3" fill="#b5b5b5" stroke="#717171" stroke-width="1.5" /><line x1="2268" y1="503.4" x2="2268" y2="494.9" stroke="#8a5a2b" stroke-width="2.5" /><path d="M2268,462.6 C2274.7,468.3 2278.4,481.6 2277.5,489.2 C2276.6,496.8 2259.4,496.8 2258.5,489.2 C2257.6,481.6 2261.3,468.3 2268,462.6 Z" fill="#2e8b2e" stroke="#717171" stroke-width="2"/>
<path d="M1451.6,727.2 L1451.6,773.7 A47,24 0 0 0 1545.6,773.7 L1545.6,727.2 Z" fill="#ebebeb" stroke="#717171" stroke-width="3" stroke-linejoin="round"/><ellipse cx="1498.6" cy="727.2" rx="47" ry="24" fill="#fff" stroke="#717171" stroke-width="3" />
<path d="M1341,782.5 L1341,829 A47,24 0 0 0 1435,829 L1435,782.5 Z" fill="#ebebeb" stroke="#717171" stroke-width="3" stroke-linejoin="round"/><ellipse cx="1388" cy="782.5" rx="47" ry="24" fill="#fff" stroke="#717171" stroke-width="3" />
<path d="M1562.2,782.5 L1562.2,829 A47,24 0 0 0 1656.2,829 L1656.2,782.5 Z" fill="#ebebeb" stroke="#717171" stroke-width="3" stroke-linejoin="round"/><ellipse cx="1609.2" cy="782.5" rx="47" ry="24" fill="#fff" stroke="#717171" stroke-width="3" />
<path d="M1672.8,837.8 L1672.8,884.3 A47,24 0 0 0 1766.8,884.3 L1766.8,837.8 Z" fill="#ebebeb" stroke="#717171" stroke-width="3" stroke-linejoin="round"/><ellipse cx="1719.8" cy="837.8" rx="47" ry="24" fill="#fff" stroke="#717171" stroke-width="3" />
<path d="M1783.4,893.1 L1783.4,939.6 A47,24 0 0 0 1877.4,939.6 L1877.4,893.1 Z" fill="#ebebeb" stroke="#717171" stroke-width="3" stroke-linejoin="round"/><ellipse cx="1830.4" cy="893.1" rx="47" ry="24" fill="#fff" stroke="#717171" stroke-width="3" />
<path d="M2115.2,837.8 L2115.2,884.3 A47,24 0 0 0 2209.2,884.3 L2209.2,837.8 Z" fill="#ebebeb" stroke="#717171" stroke-width="3" stroke-linejoin="round"/><ellipse cx="2162.2" cy="837.8" rx="47" ry="24" fill="#fff" stroke="#717171" stroke-width="3" />
<path d="M2004.6,893.1 L2004.6,939.6 A47,24 0 0 0 2098.6,939.6 L2098.6,893.1 Z" fill="#ebebeb" stroke="#717171" stroke-width="3" stroke-linejoin="round"/><ellipse cx="2051.6" cy="893.1" rx="47" ry="24" fill="#fff" stroke="#717171" stroke-width="3" />
<path d="M2225.8,893.1 L2225.8,939.6 A47,24 0 0 0 2319.8,939.6 L2319.8,893.1 Z" fill="#ebebeb" stroke="#717171" stroke-width="3" stroke-linejoin="round"/><ellipse cx="2272.8" cy="893.1" rx="47" ry="24" fill="#fff" stroke="#717171" stroke-width="3" />
<path d="M2115.2,948.4 L2115.2,994.9 A47,24 0 0 0 2209.2,994.9 L2209.2,948.4 Z" fill="#ebebeb" stroke="#717171" stroke-width="3" stroke-linejoin="round"/><ellipse cx="2162.2" cy="948.4" rx="47" ry="24" fill="#fff" stroke="#717171" stroke-width="3" />
<polygon points="1388,788.3 1609.2,898.9 1609.2,994.9 1388,884.3" fill="#ff9468" stroke="#717171" stroke-width="3" stroke-linejoin="round" /><polygon points="1609.2,898.9 1719.8,843.6 1719.8,939.6 1609.2,994.9" fill="#ff9468" stroke="#717171" stroke-width="3" stroke-linejoin="round" /><polygon points="1498.6,733 1719.8,843.6 1609.2,898.9 1388,788.3" fill="#ffc7b0" stroke="#717171" stroke-width="3" stroke-linejoin="round" /><path d="M1451.6,741.8 L1451.6,788.3 A47,24 0 0 0 1545.6,788.3 L1545.6,741.8 Z" fill="#ff9468" stroke="#717171" stroke-width="3" stroke-linejoin="round"/><ellipse cx="1498.6" cy="741.8" rx="47" ry="24" fill="#ffc7b0" stroke="#717171" stroke-width="3" /><path d="M1562.2,797.1 L1562.2,843.6 A47,24 0 0 0 1656.2,843.6 L1656.2,797.1 Z" fill="#ff9468" stroke="#717171" stroke-width="3" stroke-linejoin="round"/><ellipse cx="1609.2" cy="797.1" rx="47" ry="24" fill="#ffc7b0" stroke="#717171" stroke-width="3" /><g transform="matrix(1,0.5,0,1,1424,867.3)" ><text x="0" y="0" font-size="60" fill="#fff" text-anchor="start" class="b" textLength="140" lengthAdjust="spacingAndGlyphs" >Web予約</text></g>
<path d="M1672.8,948.4 L1672.8,994.9 A47,24 0 0 0 1766.8,994.9 L1766.8,948.4 Z" fill="#ebebeb" stroke="#717171" stroke-width="3" stroke-linejoin="round"/><ellipse cx="1719.8" cy="948.4" rx="47" ry="24" fill="#fff" stroke="#717171" stroke-width="3" />
<polygon points="1719.8,950.2 1941,1060.8 1941,1160.8 1719.8,1050.2" fill="#36b4e8" stroke="#717171" stroke-width="3" stroke-linejoin="round" /><polygon points="1941,1060.8 2162.2,950.2 2162.2,1050.2 1941,1160.8" fill="#36b4e8" stroke="#717171" stroke-width="3" stroke-linejoin="round" /><polygon points="1941,839.6 2162.2,950.2 1941,1060.8 1719.8,950.2" fill="#36b4e8" stroke="#717171" stroke-width="3" stroke-linejoin="round" /><polygon points="1719.8,800.2 1941,910.8 1941,1060.8 1719.8,950.2" fill="#36b4e8" stroke="#717171" stroke-width="3" stroke-linejoin="round" /><polygon points="1941,910.8 2162.2,800.2 2162.2,950.2 1941,1060.8" fill="#36b4e8" stroke="#717171" stroke-width="3" stroke-linejoin="round" /><polygon points="1941,689.6 2162.2,800.2 1941,910.8 1719.8,800.2" fill="#36b4e8" stroke="#717171" stroke-width="3" stroke-linejoin="round" /><polygon points="1719.8,762.2 1941,872.8 1941,910.8 1719.8,800.2" fill="#b4b4b5" stroke="#717171" stroke-width="3" stroke-linejoin="round" /><polygon points="1941,872.8 2162.2,762.2 2162.2,800.2 1941,910.8" fill="#8c8c8c" stroke="#717171" stroke-width="3" stroke-linejoin="round" /><polygon points="1941,651.6 2162.2,762.2 1941,872.8 1719.8,762.2" fill="#c9cacb" stroke="#717171" stroke-width="3" stroke-linejoin="round" /><g transform="matrix(1,0.5,0,1,1727.8,818.2)" ><rect x="0" y="0" width="204.2" height="113" fill="#fff"/><g transform="matrix(0.7657,0,0,1,13,62)" ><title>Waroku</title><text x="-0.5" y="5.4" font-size="72.9" fill="#00a3af" text-anchor="start" textLength="66.2" lengthAdjust="spacingAndGlyphs" >W</text><text x="62.5" y="0" font-size="62.8" fill="#00a3af" text-anchor="start" textLength="59" lengthAdjust="spacingAndGlyphs" >ar</text><use href="#mark" transform="translate(146,-16.1) scale(0.216)"/><text x="172.8" y="0" font-size="62.8" fill="#00a3af" text-anchor="start" textLength="61.2" lengthAdjust="spacingAndGlyphs" >ku</text></g><rect x="10" y="71" width="184.2" height="32" fill="#0095d9"/><text x="102.1" y="96" font-size="24" fill="#fff" text-anchor="middle" class="b" textLength="168.2" lengthAdjust="spacingAndGlyphs" >ホスピタルカルテ</text></g><g transform="matrix(1,-0.5,0,1,1950,920.3)" ><rect x="0" y="0" width="204.2" height="113" fill="#fff"/><g transform="matrix(0.7657,0,0,1,13,62)" ><title>Waroku</title><text x="-0.5" y="5.4" font-size="72.9" fill="#00a3af" text-anchor="start" textLength="66.2" lengthAdjust="spacingAndGlyphs" >W</text><text x="62.5" y="0" font-size="62.8" fill="#00a3af" text-anchor="start" textLength="59" lengthAdjust="spacingAndGlyphs" >ar</text><use href="#mark" transform="translate(146,-16.1) scale(0.216)"/><text x="172.8" y="0" font-size="62.8" fill="#00a3af" text-anchor="start" textLength="61.2" lengthAdjust="spacingAndGlyphs" >ku</text></g><rect x="10" y="71" width="184.2" height="32" fill="#0095d9"/><text x="102.1" y="96" font-size="24" fill="#fff" text-anchor="middle" class="b" textLength="168.2" lengthAdjust="spacingAndGlyphs" >ホスピタルカルテ</text></g><polygon points="1839.7,459.2 2054,566.4 2054,809.4 1839.7,702.2" fill="#f1efe6" stroke="#fff" stroke-width="9" stroke-linejoin="round" /><polygon points="2054,566.4 2148,519.4 2148,762.4 2054,809.4" fill="#e5e2d5" stroke="#fff" stroke-width="9" stroke-linejoin="round" /><polygon points="1839.7,459.2 1933.7,412.2 2148,519.4 2054,566.4" fill="#f1efe6" stroke="#fff" stroke-width="9" stroke-linejoin="round" /><polygon points="1764,555.1 1837.8,592 1837.8,780.5 1764,743.6" fill="#f1efe6" stroke="#fff" stroke-width="9" stroke-linejoin="round" /><polygon points="1837.8,592 1911.5,555.1 1911.5,743.6 1837.8,780.5" fill="#e5e2d5" stroke="#fff" stroke-width="9" stroke-linejoin="round" /><polygon points="1764,555.1 1837.7,518.2 1911.5,555.1 1837.8,592" fill="#f1efe6" stroke="#fff" stroke-width="9" stroke-linejoin="round" /><polygon points="1839.7,469.2 2054,576.4 2054,809.4 1839.7,702.2" fill="#f1efe6" stroke="#717171" stroke-width="2.5" stroke-linejoin="round" /><polygon points="2054,576.4 2148,529.4 2148,762.4 2054,809.4" fill="#e5e2d5" stroke="#717171" stroke-width="2.5" stroke-linejoin="round" /><polygon points="1839.7,469.2 1933.7,422.2 2148,529.4 2054,576.4" fill="#d5d1c3" stroke="#717171" stroke-width="2.5" stroke-linejoin="round" /><polygon points="1865.7,472.2 1933.7,438.2 2118,530.4 2050,564.4" fill="#9b978c" stroke="#717171" stroke-width="2" stroke-linejoin="round" /><polygon points="1877.7,472.2 1929.7,446.2 2098,530.4 2046,556.4" fill="#5f5851" stroke="#717171" stroke-width="2" stroke-linejoin="round" /><polygon points="1954,526.4 2014,496.4 2038,508.4 1978,538.4" fill="#b5b5b6" stroke="#717171" stroke-width="2" stroke-linejoin="round" /><g transform="matrix(1,0.5,0,1,1839.7,469.2)" ><line x1="0" y1="-22" x2="0" y2="0" stroke="#717171" stroke-width="2"/><line x1="6.3" y1="-22" x2="6.3" y2="0" stroke="#717171" stroke-width="2"/><line x1="12.6" y1="-22" x2="12.6" y2="0" stroke="#717171" stroke-width="2"/><line x1="18.9" y1="-22" x2="18.9" y2="0" stroke="#717171" stroke-width="2"/><line x1="25.2" y1="-22" x2="25.2" y2="0" stroke="#717171" stroke-width="2"/><line x1="31.5" y1="-22" x2="31.5" y2="0" stroke="#717171" stroke-width="2"/><line x1="37.8" y1="-22" x2="37.8" y2="0" stroke="#717171" stroke-width="2"/><line x1="44.1" y1="-22" x2="44.1" y2="0" stroke="#717171" stroke-width="2"/><line x1="50.4" y1="-22" x2="50.4" y2="0" stroke="#717171" stroke-width="2"/><line x1="56.7" y1="-22" x2="56.7" y2="0" stroke="#717171" stroke-width="2"/><line x1="63" y1="-22" x2="63" y2="0" stroke="#717171" stroke-width="2"/><line x1="69.3" y1="-22" x2="69.3" y2="0" stroke="#717171" stroke-width="2"/><line x1="75.6" y1="-22" x2="75.6" y2="0" stroke="#717171" stroke-width="2"/><line x1="81.9" y1="-22" x2="81.9" y2="0" stroke="#717171" stroke-width="2"/><line x1="88.2" y1="-22" x2="88.2" y2="0" stroke="#717171" stroke-width="2"/><line x1="94.5" y1="-22" x2="94.5" y2="0" stroke="#717171" stroke-width="2"/><line x1="100.8" y1="-22" x2="100.8" y2="0" stroke="#717171" stroke-width="2"/><line x1="214.3" y1="-22" x2="214.3" y2="0" stroke="#717171" stroke-width="2"/><line x1="0" y1="-22" x2="106" y2="-22" stroke="#717171" stroke-width="2.5"/></g><g transform="matrix(1,-0.5,0,1,2054,576.4)" ><line x1="0" y1="-22" x2="0" y2="0" stroke="#717171" stroke-width="2"/><line x1="6.3" y1="-22" x2="6.3" y2="0" stroke="#717171" stroke-width="2"/><line x1="12.5" y1="-22" x2="12.5" y2="0" stroke="#717171" stroke-width="2"/><line x1="18.8" y1="-22" x2="18.8" y2="0" stroke="#717171" stroke-width="2"/><line x1="25.1" y1="-22" x2="25.1" y2="0" stroke="#717171" stroke-width="2"/><line x1="31.3" y1="-22" x2="31.3" y2="0" stroke="#717171" stroke-width="2"/><line x1="37.6" y1="-22" x2="37.6" y2="0" stroke="#717171" stroke-width="2"/><line x1="43.9" y1="-22" x2="43.9" y2="0" stroke="#717171" stroke-width="2"/><line x1="50.1" y1="-22" x2="50.1" y2="0" stroke="#717171" stroke-width="2"/><line x1="56.4" y1="-22" x2="56.4" y2="0" stroke="#717171" stroke-width="2"/><line x1="62.7" y1="-22" x2="62.7" y2="0" stroke="#717171" stroke-width="2"/><line x1="68.9" y1="-22" x2="68.9" y2="0" stroke="#717171" stroke-width="2"/><line x1="75.2" y1="-22" x2="75.2" y2="0" stroke="#717171" stroke-width="2"/><line x1="81.5" y1="-22" x2="81.5" y2="0" stroke="#717171" stroke-width="2"/><line x1="87.7" y1="-22" x2="87.7" y2="0" stroke="#717171" stroke-width="2"/><line x1="94" y1="-22" x2="94" y2="0" stroke="#717171" stroke-width="2"/><line x1="0" y1="-22" x2="94" y2="-22" stroke="#717171" stroke-width="2.5"/></g><g transform="matrix(1,0.5,0,1,1839.7,469.2)" ><rect x="106" y="-18" width="106" height="30" fill="#f5f3ec" stroke="#717171" stroke-width="2"/><text x="159" y="6" font-size="19" fill="#555" text-anchor="middle" textLength="86" lengthAdjust="spacingAndGlyphs" >HOSPITAL</text></g><g transform="matrix(1,0.5,0,1,1839.7,469.2)" ><rect x="89" y="38" width="21" height="40" fill="#8fbce6" stroke="#6e6e6e" stroke-width="3"/><rect x="152" y="42" width="20" height="30" fill="#8fbce6" stroke="#6e6e6e" stroke-width="2.5"/><rect x="182" y="42" width="20" height="30" fill="#8fbce6" stroke="#6e6e6e" stroke-width="2.5"/><rect x="89" y="88" width="21" height="40" fill="#8fbce6" stroke="#6e6e6e" stroke-width="3"/><rect x="152" y="92" width="20" height="30" fill="#8fbce6" stroke="#6e6e6e" stroke-width="2.5"/><rect x="182" y="92" width="20" height="30" fill="#8fbce6" stroke="#6e6e6e" stroke-width="2.5"/><rect x="89" y="138" width="21" height="40" fill="#8fbce6" stroke="#6e6e6e" stroke-width="3"/><rect x="152" y="142" width="20" height="30" fill="#8fbce6" stroke="#6e6e6e" stroke-width="2.5"/><rect x="182" y="142" width="20" height="30" fill="#8fbce6" stroke="#6e6e6e" stroke-width="2.5"/><rect x="190" y="190" width="25" height="38" fill="#8fbce6" stroke="#6e6e6e" stroke-width="2.5"/></g><g transform="matrix(1,-0.5,0,1,2054,576.4)" ><rect x="10" y="42" width="22" height="30" fill="#7fa3d0" stroke="#6e6e6e" stroke-width="2.5"/><rect x="10" y="92" width="22" height="30" fill="#7fa3d0" stroke="#6e6e6e" stroke-width="2.5"/><rect x="10" y="142" width="22" height="30" fill="#7fa3d0" stroke="#6e6e6e" stroke-width="2.5"/><rect x="0" y="190" width="22" height="38" fill="#7fa3d0" stroke="#6e6e6e" stroke-width="2.5"/></g><polygon points="1966,610.4 2054,654.4 2054,676.4 1966,632.4" fill="#b5b5b6" stroke="#717171" stroke-width="2" stroke-linejoin="round" /><polygon points="1966,610.4 1966,632.4 1959,628.9 1959,606.9" fill="#9a9a9b" stroke="#717171" stroke-width="2" stroke-linejoin="round" /><polygon points="2054,654.4 2104,629.4 2104,651.4 2054,676.4" fill="#8c8c8c" stroke="#717171" stroke-width="2" stroke-linejoin="round" /><polygon points="1966,660.4 2054,704.4 2054,726.4 1966,682.4" fill="#b5b5b6" stroke="#717171" stroke-width="2" stroke-linejoin="round" /><polygon points="1966,660.4 1966,682.4 1959,678.9 1959,656.9" fill="#9a9a9b" stroke="#717171" stroke-width="2" stroke-linejoin="round" /><polygon points="2054,704.4 2104,679.4 2104,701.4 2054,726.4" fill="#8c8c8c" stroke="#717171" stroke-width="2" stroke-linejoin="round" /><polygon points="1966,710.4 2054,754.4 2054,776.4 1966,732.4" fill="#b5b5b6" stroke="#717171" stroke-width="2" stroke-linejoin="round" /><polygon points="1966,710.4 1966,732.4 1959,728.9 1959,706.9" fill="#9a9a9b" stroke="#717171" stroke-width="2" stroke-linejoin="round" /><polygon points="2054,754.4 2104,729.4 2104,751.4 2054,776.4" fill="#8c8c8c" stroke="#717171" stroke-width="2" stroke-linejoin="round" /><polygon points="1764,555.1 1837.8,592 1837.8,780.5 1764,743.6" fill="#f1efe6" stroke="#717171" stroke-width="2.5" stroke-linejoin="round" /><polygon points="1837.8,592 1911.5,555.1 1911.5,743.6 1837.8,780.5" fill="#e5e2d5" stroke="#717171" stroke-width="2.5" stroke-linejoin="round" /><polygon points="1764,555.1 1837.7,518.2 1911.5,555.1 1837.8,592" fill="#d5d1c3" stroke="#717171" stroke-width="2.5" stroke-linejoin="round" /><polygon points="1776,555.1 1837.7,524.2 1899.5,555.1 1837.8,586" fill="#5f5851" stroke="#717171" stroke-width="2" stroke-linejoin="round" /><polygon points="1805.8,538 1837.8,554 1837.8,576 1805.8,560" fill="#f5f3ec" stroke="#717171" stroke-width="2" stroke-linejoin="round" /><polygon points="1837.8,554 1869.8,538 1869.8,560 1837.8,576" fill="#e5e2d5" stroke="#717171" stroke-width="2" stroke-linejoin="round" /><polygon points="1805.8,538 1837.8,522 1869.8,538 1837.8,554" fill="#f5f3ec" stroke="#717171" stroke-width="2" stroke-linejoin="round" /><g transform="matrix(1,0.5,0,1,1764,555.1)" ><rect x="8" y="18" width="60" height="28" fill="#6e6e6e"/><rect x="10.5" y="20" width="11" height="24" fill="#8fbce6"/><rect x="25" y="20" width="11" height="24" fill="#8fbce6"/><rect x="39.5" y="20" width="11" height="24" fill="#8fbce6"/><rect x="54" y="20" width="11" height="24" fill="#8fbce6"/><rect x="8" y="68" width="60" height="28" fill="#6e6e6e"/><rect x="10.5" y="70" width="11" height="24" fill="#8fbce6"/><rect x="25" y="70" width="11" height="24" fill="#8fbce6"/><rect x="39.5" y="70" width="11" height="24" fill="#8fbce6"/><rect x="54" y="70" width="11" height="24" fill="#8fbce6"/><rect x="17" y="138" width="10" height="42" fill="#f5f3ec" stroke="#717171" stroke-width="2"/><rect x="38" y="148" width="12" height="22" fill="#8fbce6" stroke="#6e6e6e" stroke-width="2.5"/><rect x="54" y="148" width="12" height="22" fill="#8fbce6" stroke="#6e6e6e" stroke-width="2.5"/></g><g transform="matrix(1,-0.5,0,1,1837.8,592)" ><rect x="12" y="14" width="12" height="30" fill="#7fa3d0" stroke="#6e6e6e" stroke-width="2.5"/><rect x="32" y="14" width="12" height="30" fill="#7fa3d0" stroke="#6e6e6e" stroke-width="2.5"/><rect x="4" y="36" width="56" height="24" fill="#9a9a9b" stroke="#717171" stroke-width="2"/><rect x="12" y="70" width="12" height="30" fill="#7fa3d0" stroke="#6e6e6e" stroke-width="2.5"/><rect x="32" y="70" width="12" height="30" fill="#7fa3d0" stroke="#6e6e6e" stroke-width="2.5"/><rect x="4" y="92" width="56" height="24" fill="#9a9a9b" stroke="#717171" stroke-width="2"/><rect x="22" y="128" width="12" height="30" fill="#666" stroke="#555" stroke-width="1.5"/><rect x="36" y="128" width="12" height="30" fill="#666" stroke="#555" stroke-width="1.5"/></g><polygon points="1884,678 1952,712 1952,722 1884,688" fill="#d8c4a0" stroke="#717171" stroke-width="2" stroke-linejoin="round" /><polygon points="1952,712 1966,705 1966,715 1952,722" fill="#5a3a24" stroke="#717171" stroke-width="2" stroke-linejoin="round" /><polygon points="1884,678 1898,671 1966,705 1952,712" fill="#7a5236" stroke="#717171" stroke-width="2" stroke-linejoin="round" /><polygon points="1912,712 1952,732 1952,776 1912,756" fill="#c79a78" stroke="#717171" stroke-width="2" stroke-linejoin="round" /><g transform="matrix(1,0.5,0,1,1922,728)" ><rect x="0" y="0" width="24" height="24" fill="#a8dadc" stroke="#8a8a8a" stroke-width="1.5"/><rect x="7" y="0" width="2" height="24" fill="#e6e6e6"/><rect x="15" y="0" width="2" height="24" fill="#e6e6e6"/></g><polygon points="1829,762 1911,721 1911,740 1829,781" fill="#e9e9e9" stroke="#717171" stroke-width="2" stroke-linejoin="round" /><polygon points="1829,762 1911,721 1915,724 1833,765" fill="#3cb371" /><polygon points="1829,762 1833,765 1833,784 1829,781" fill="#f5f5f5" stroke="#717171" stroke-width="2" stroke-linejoin="round" /><ellipse cx="1969.7" cy="781.1" rx="8.5" ry="4.3" fill="#d9d9d9" stroke="#717171" stroke-width="2" /><path d="M1963,774.5 L1963,780.1 A6.6,3.3 0 0 0 1976.4,780.1 L1976.4,774.5 Z" fill="#e9e9e9" stroke="#717171" stroke-width="2"/><ellipse cx="1969.7" cy="774.5" rx="6.6" ry="3.3" fill="#b5b5b5" stroke="#717171" stroke-width="1.5" /><line x1="1969.7" y1="774.5" x2="1969.7" y2="765.9" stroke="#8a5a2b" stroke-width="2.5" /><path d="M1969.7,733.6 C1976.4,739.3 1980.2,752.6 1979.2,760.2 C1978.2,767.8 1961.2,767.8 1960.2,760.2 C1959.2,752.6 1963,739.3 1969.7,733.6 Z" fill="#2e8b2e" stroke="#717171" stroke-width="2"/><ellipse cx="1991" cy="791.1" rx="8.5" ry="4.3" fill="#d9d9d9" stroke="#717171" stroke-width="2" /><path d="M1984.3,784.5 L1984.3,790.1 A6.6,3.3 0 0 0 1997.7,790.1 L1997.7,784.5 Z" fill="#e9e9e9" stroke="#717171" stroke-width="2"/><ellipse cx="1991" cy="784.5" rx="6.6" ry="3.3" fill="#b5b5b5" stroke="#717171" stroke-width="1.5" /><line x1="1991" y1="784.5" x2="1991" y2="775.9" stroke="#8a5a2b" stroke-width="2.5" /><path d="M1991,743.6 C1997.7,749.3 2001.5,762.6 2000.5,770.2 C1999.5,777.8 1982.5,777.8 1981.5,770.2 C1980.5,762.6 1984.3,749.3 1991,743.6 Z" fill="#2e8b2e" stroke="#717171" stroke-width="2"/><ellipse cx="2013.6" cy="801.1" rx="8.5" ry="4.3" fill="#d9d9d9" stroke="#717171" stroke-width="2" /><path d="M2006.9,794.5 L2006.9,800.1 A6.6,3.3 0 0 0 2020.2,800.1 L2020.2,794.5 Z" fill="#e9e9e9" stroke="#717171" stroke-width="2"/><ellipse cx="2013.6" cy="794.5" rx="6.6" ry="3.3" fill="#b5b5b5" stroke="#717171" stroke-width="1.5" /><line x1="2013.6" y1="794.5" x2="2013.6" y2="785.9" stroke="#8a5a2b" stroke-width="2.5" /><path d="M2013.6,753.6 C2020.2,759.3 2024,772.6 2023.1,780.2 C2022.1,787.8 2005,787.8 2004.1,780.2 C2003.1,772.6 2006.9,759.3 2013.6,753.6 Z" fill="#2e8b2e" stroke="#717171" stroke-width="2"/>
<line x1="1942" y1="171" x2="1942" y2="284" stroke="#4a4a4a" stroke-width="2.5" stroke-dasharray="13 7"/><line x1="2163" y1="279" x2="2163" y2="477" stroke="#4a4a4a" stroke-width="2.5" stroke-dasharray="13 7"/><line x1="2273.5" y1="225" x2="2273.5" y2="281" stroke="#4a4a4a" stroke-width="2.5" stroke-dasharray="13 7"/><line x1="2382.5" y1="225" x2="2382.5" y2="233" stroke="#4a4a4a" stroke-width="2.5" stroke-dasharray="13 7"/><line x1="2604" y1="335" x2="2604" y2="545" stroke="#4a4a4a" stroke-width="2.5" stroke-dasharray="13 7"/><line x1="2825" y1="225" x2="2825" y2="712" stroke="#4a4a4a" stroke-width="2.5" stroke-dasharray="13 7"/><polygon points="1941,70.1 2162.2,180.7 2162.2,278.7 1941,168.1" fill="#fff76b" stroke="#717171" stroke-width="3" stroke-linejoin="round" /><polygon points="2162.2,180.7 2272.8,125.4 2272.8,223.4 2162.2,278.7" fill="#fff76b" stroke="#717171" stroke-width="3" stroke-linejoin="round" /><polygon points="2051.6,14.8 2272.8,125.4 2162.2,180.7 1941,70.1" fill="#fffcb2" stroke="#717171" stroke-width="3" stroke-linejoin="round" /><path d="M2004.6,23.6 L2004.6,70.1 A47,24 0 0 0 2098.6,70.1 L2098.6,23.6 Z" fill="#fff76b" stroke="#717171" stroke-width="3" stroke-linejoin="round"/><ellipse cx="2051.6" cy="23.6" rx="47" ry="24" fill="#fffcb2" stroke="#717171" stroke-width="3" /><path d="M2115.2,78.9 L2115.2,125.4 A47,24 0 0 0 2209.2,125.4 L2209.2,78.9 Z" fill="#fff76b" stroke="#717171" stroke-width="3" stroke-linejoin="round"/><ellipse cx="2162.2" cy="78.9" rx="47" ry="24" fill="#fffcb2" stroke="#717171" stroke-width="3" /><g transform="matrix(1,0.5,0,1,1953,132.1)" ><text x="0" y="0" font-size="56" fill="#666" text-anchor="start" class="b" textLength="200" lengthAdjust="spacingAndGlyphs" >オンライン診療</text></g><polygon points="2383.4,126.9 2604.6,237.5 2604.6,334.5 2383.4,223.9" fill="none" stroke="#1a9fad" stroke-width="3" stroke-linejoin="round" /><polygon points="2604.6,237.5 2825.8,126.9 2825.8,223.9 2604.6,334.5" fill="none" stroke="#1a9fad" stroke-width="3" stroke-linejoin="round" /><polygon points="2604.6,16.3 2825.8,126.9 2604.6,237.5 2383.4,126.9" fill="none" stroke="#1a9fad" stroke-width="3" stroke-linejoin="round" /><path d="M2557.6,25.1 L2557.6,71.6 A47,24 0 0 0 2651.6,71.6 L2651.6,25.1 A47,24 0 0 0 2557.6,25.1 Z" fill="#fff"/><path d="M2447,80.4 L2447,126.9 A47,24 0 0 0 2541,126.9 L2541,80.4 A47,24 0 0 0 2447,80.4 Z" fill="#fff"/><path d="M2668.2,80.4 L2668.2,126.9 A47,24 0 0 0 2762.2,126.9 L2762.2,80.4 A47,24 0 0 0 2668.2,80.4 Z" fill="#fff"/><path d="M2557.6,135.7 L2557.6,182.2 A47,24 0 0 0 2651.6,182.2 L2651.6,135.7 A47,24 0 0 0 2557.6,135.7 Z" fill="#fff"/><line x1="2604.6" y1="113.3" x2="2383.4" y2="223.9" stroke="#a8dde2" stroke-width="2.5" /><line x1="2604.6" y1="113.3" x2="2825.8" y2="223.9" stroke="#a8dde2" stroke-width="2.5" /><line x1="2604.6" y1="113.3" x2="2604.6" y2="16.3" stroke="#a8dde2" stroke-width="2.5" /><path d="M2557.6,71.6 A47,24 0 0 1 2651.6,71.6" fill="none" stroke="#a8dde2" stroke-width="2.5"/><path d="M2447,126.9 A47,24 0 0 1 2541,126.9" fill="none" stroke="#a8dde2" stroke-width="2.5"/><path d="M2668.2,126.9 A47,24 0 0 1 2762.2,126.9" fill="none" stroke="#a8dde2" stroke-width="2.5"/><path d="M2557.6,182.2 A47,24 0 0 1 2651.6,182.2" fill="none" stroke="#a8dde2" stroke-width="2.5"/><path d="M2557.6,25.1 L2557.6,71.6 A47,24 0 0 0 2651.6,71.6 L2651.6,25.1" fill="none" stroke="#1a9fad" stroke-width="3"/><ellipse cx="2604.6" cy="25.1" rx="47" ry="24" fill="none" stroke="#1a9fad" stroke-width="3" /><path d="M2447,80.4 L2447,126.9 A47,24 0 0 0 2541,126.9 L2541,80.4" fill="none" stroke="#1a9fad" stroke-width="3"/><ellipse cx="2494" cy="80.4" rx="47" ry="24" fill="none" stroke="#1a9fad" stroke-width="3" /><path d="M2668.2,80.4 L2668.2,126.9 A47,24 0 0 0 2762.2,126.9 L2762.2,80.4" fill="none" stroke="#1a9fad" stroke-width="3"/><ellipse cx="2715.2" cy="80.4" rx="47" ry="24" fill="none" stroke="#1a9fad" stroke-width="3" /><path d="M2557.6,135.7 L2557.6,182.2 A47,24 0 0 0 2651.6,182.2 L2651.6,135.7" fill="none" stroke="#1a9fad" stroke-width="3"/><ellipse cx="2604.6" cy="135.7" rx="47" ry="24" fill="none" stroke="#1a9fad" stroke-width="3" />
<path d="M1095.2,283.8 A116,116 0 1 1 1123.2,254.9 L1147.6,312.6 Z" fill="#fff" stroke="#fff" stroke-width="17" stroke-linejoin="round"/><path d="M1095.2,283.8 A116,116 0 1 1 1123.2,254.9 L1147.6,312.6 Z" fill="#fff" stroke="#0b2a6f" stroke-width="9" stroke-linejoin="miter"/><text x="1027" y="181.5" font-size="37" fill="#0b2a6f" text-anchor="middle" class="b" textLength="111" lengthAdjust="spacingAndGlyphs" >精神科</text><text x="1027" y="225.2" font-size="37" fill="#0b2a6f" text-anchor="middle" class="b" textLength="162" lengthAdjust="spacingAndGlyphs" >クリニック</text><path d="M1582.8,230.7 A117,117 0 1 1 1612.1,199.7 L1634.5,257 Z" fill="#fff" stroke="#fff" stroke-width="17" stroke-linejoin="round"/><path d="M1582.8,230.7 A117,117 0 1 1 1612.1,199.7 L1634.5,257 Z" fill="#fff" stroke="#3a8fc4" stroke-width="9" stroke-linejoin="miter"/><text x="1514" y="127.5" font-size="37" fill="#3a8fc4" text-anchor="middle" class="b" textLength="145" lengthAdjust="spacingAndGlyphs" >訪問看護</text><text x="1514" y="171.2" font-size="37" fill="#3a8fc4" text-anchor="middle" class="b" textLength="205" lengthAdjust="spacingAndGlyphs" >ステーション</text><path d="M2118.2,798.3 A117,117 0 1 1 2090,827.6 L2067,776 Z" fill="#fff" stroke="#fff" stroke-width="17" stroke-linejoin="round"/><path d="M2118.2,798.3 A117,117 0 1 1 2090,827.6 L2067,776 Z" fill="#fff" stroke="#0095d9" stroke-width="9" stroke-linejoin="miter"/><text x="2187" y="884.7" font-size="36" fill="#0095d9" text-anchor="middle" class="b" textLength="120" lengthAdjust="spacing" >精神科</text><text x="2187" y="927.2" font-size="36" fill="#0095d9" text-anchor="middle" class="b" textLength="78" lengthAdjust="spacing" >病院</text><path d="M2581.6,520.5 A118,118 0 1 1 2553.2,550 L2528,495 Z" fill="#fff" stroke="#fff" stroke-width="17" stroke-linejoin="round"/><path d="M2581.6,520.5 A118,118 0 1 1 2553.2,550 L2528,495 Z" fill="#fff" stroke="#3cb454" stroke-width="9" stroke-linejoin="miter"/><text x="2651" y="607.3" font-size="38" fill="#3cb454" text-anchor="middle" class="b" textLength="113" lengthAdjust="spacingAndGlyphs" >様々な</text><text x="2651" y="652.1" font-size="38" fill="#3cb454" text-anchor="middle" class="b" textLength="156" lengthAdjust="spacing" >相談窓口</text>
<path d="M73.3,1174.4 Q46.5,1161 73.3,1147.6 L299.7,1034.4 Q326.5,1021 353.3,1034.4 L579.7,1147.6 Q606.5,1161 579.7,1174.4 L353.3,1287.6 Q326.5,1301 299.7,1287.6 Z" fill="#ffadd0" stroke="#717171" stroke-width="3"/><rect x="59.9" y="1039" width="533.2" height="122" fill="#ffadd0"/><path d="M73.3,1118.2 Q46.5,1104.8 73.3,1091.4 L299.7,978.2 Q326.5,964.8 353.3,978.2 L579.7,1091.4 Q606.5,1104.8 579.7,1118.2 L353.3,1231.4 Q326.5,1244.8 299.7,1231.4 Z" fill="#ffadd0" stroke="#717171" stroke-width="2.2"/><rect x="59.9" y="1039" width="533.2" height="65.8" fill="#ffadd0"/><path d="M73.3,1112.2 Q46.5,1098.8 73.3,1085.4 L299.7,972.2 Q326.5,958.8 353.3,972.2 L579.7,1085.4 Q606.5,1098.8 579.7,1112.2 L353.3,1225.4 Q326.5,1238.8 299.7,1225.4 Z" fill="#ffadd0" stroke="#717171" stroke-width="2.2"/><rect x="59.9" y="1039" width="533.2" height="59.8" fill="#ffadd0"/><line x1="59.9" y1="1039" x2="59.9" y2="1161" stroke="#717171" stroke-width="3" /><line x1="593.1" y1="1039" x2="593.1" y2="1161" stroke="#717171" stroke-width="3" /><path d="M73.3,1052.4 Q46.5,1039 73.3,1025.6 L299.7,912.4 Q326.5,899 353.3,912.4 L579.7,1025.6 Q606.5,1039 579.7,1052.4 L353.3,1165.6 Q326.5,1179 299.7,1165.6 Z" fill="#ffd9e8" stroke="#717171" stroke-width="3"/><path d="M89,1045.3 Q76.5,1039 89,1032.7 L314,920.3 Q326.5,914 339,920.3 L564,1032.7 Q576.5,1039 564,1045.3 L339,1157.7 Q326.5,1164 314,1157.7 Z" fill="#fff" stroke="#717171" stroke-width="3"/>
<g transform="matrix(1,0.5,0,1,76,1076)" ><rect x="0" y="0" width="229" height="72" fill="#fff" stroke="#717171" stroke-width="2.5"/><text x="114.5" y="59" font-size="64" fill="#e4007f" text-anchor="middle" class="b" textLength="205" lengthAdjust="spacingAndGlyphs" >AIスピーカー</text></g>
<g transform="translate(326,1035)"><g transform="translate(-2,-2) rotate(-27)"><rect x="-78" y="-30" width="146" height="60" rx="30" fill="#ffadd0"/><ellipse cx="64" cy="0" rx="17" ry="31" fill="#ffadd0" stroke="#fff" stroke-width="3.5"/><ellipse cx="66" cy="0" rx="6" ry="12" fill="#fff"/><circle cx="-34" cy="-15" r="3.2" fill="#fff"/><circle cx="-20" cy="-15" r="3.2" fill="#fff"/><circle cx="-6" cy="-15" r="3.2" fill="#fff"/><circle cx="8" cy="-15" r="3.2" fill="#fff"/><circle cx="22" cy="-15" r="3.2" fill="#fff"/><circle cx="-34" cy="-5" r="3.2" fill="#fff"/><circle cx="-20" cy="-5" r="3.2" fill="#fff"/><circle cx="-6" cy="-5" r="3.2" fill="#fff"/><circle cx="8" cy="-5" r="3.2" fill="#fff"/><circle cx="22" cy="-5" r="3.2" fill="#fff"/><circle cx="-34" cy="5" r="3.2" fill="#fff"/><circle cx="-20" cy="5" r="3.2" fill="#fff"/><circle cx="-6" cy="5" r="3.2" fill="#fff"/><circle cx="8" cy="5" r="3.2" fill="#fff"/><circle cx="22" cy="5" r="3.2" fill="#fff"/><circle cx="-34" cy="15" r="3.2" fill="#fff"/><circle cx="-20" cy="15" r="3.2" fill="#fff"/><circle cx="-6" cy="15" r="3.2" fill="#fff"/><circle cx="8" cy="15" r="3.2" fill="#fff"/><circle cx="22" cy="15" r="3.2" fill="#fff"/></g><path d="M-66,-26 A25,15 0 0 1 -41,-41" fill="none" stroke="#ffadd0" stroke-width="7.5"/><path d="M58,28 A25,15 0 0 1 33,43" fill="none" stroke="#ffadd0" stroke-width="7.5"/><path d="M-91,-26 A50,30 0 0 1 -41,-56" fill="none" stroke="#ffadd0" stroke-width="7.5"/><path d="M83,28 A50,30 0 0 1 33,58" fill="none" stroke="#ffadd0" stroke-width="7.5"/><path d="M-116,-26 A75,45 0 0 1 -41,-71" fill="none" stroke="#ffadd0" stroke-width="7.5"/><path d="M108,28 A75,45 0 0 1 33,73" fill="none" stroke="#ffadd0" stroke-width="7.5"/></g>
<path d="M501.8,1377.4 Q475,1364 501.8,1350.6 L728.2,1237.4 Q755,1224 781.8,1237.4 L1008.2,1350.6 Q1035,1364 1008.2,1377.4 L781.8,1490.6 Q755,1504 728.2,1490.6 Z" fill="#ffadd0" stroke="#717171" stroke-width="3"/><rect x="488.4" y="1242" width="533.2" height="122" fill="#ffadd0"/><path d="M501.8,1321.2 Q475,1307.8 501.8,1294.4 L728.2,1181.2 Q755,1167.8 781.8,1181.2 L1008.2,1294.4 Q1035,1307.8 1008.2,1321.2 L781.8,1434.4 Q755,1447.8 728.2,1434.4 Z" fill="#ffadd0" stroke="#717171" stroke-width="2.2"/><rect x="488.4" y="1242" width="533.2" height="65.8" fill="#ffadd0"/><path d="M501.8,1315.2 Q475,1301.8 501.8,1288.4 L728.2,1175.2 Q755,1161.8 781.8,1175.2 L1008.2,1288.4 Q1035,1301.8 1008.2,1315.2 L781.8,1428.4 Q755,1441.8 728.2,1428.4 Z" fill="#ffadd0" stroke="#717171" stroke-width="2.2"/><rect x="488.4" y="1242" width="533.2" height="59.8" fill="#ffadd0"/><line x1="488.4" y1="1242" x2="488.4" y2="1364" stroke="#717171" stroke-width="3" /><line x1="1021.6" y1="1242" x2="1021.6" y2="1364" stroke="#717171" stroke-width="3" /><path d="M501.8,1255.4 Q475,1242 501.8,1228.6 L728.2,1115.4 Q755,1102 781.8,1115.4 L1008.2,1228.6 Q1035,1242 1008.2,1255.4 L781.8,1368.6 Q755,1382 728.2,1368.6 Z" fill="#ffd9e8" stroke="#717171" stroke-width="3"/><path d="M517.5,1248.3 Q505,1242 517.5,1235.7 L742.5,1123.3 Q755,1117 767.5,1123.3 L992.5,1235.7 Q1005,1242 992.5,1248.3 L767.5,1360.7 Q755,1367 742.5,1360.7 Z" fill="#fff" stroke="#717171" stroke-width="3"/>
<g transform="matrix(1,-0.5,0,1,777,1391)" ><rect x="0" y="0" width="229" height="73" fill="#fff" stroke="#717171" stroke-width="2.5"/><text x="114.5" y="59.5" font-size="64" fill="#e4007f" text-anchor="middle" class="b" textLength="182" lengthAdjust="spacingAndGlyphs" >音声入力</text></g>
<g transform="translate(755,1240)"><ellipse cx="0" cy="0" rx="104" ry="70" fill="none" stroke="#ffadd0" stroke-width="8"/><ellipse cx="-8" cy="-10" rx="34" ry="22" fill="#ffadd0" transform="rotate(-8 -8 -10)"/><line x1="-28" y1="8" x2="26" y2="-24" stroke="#fff" stroke-width="5"/><path d="M-42,8 A48,30 0 0 0 40,-26" fill="none" stroke="#ffadd0" stroke-width="7" transform="translate(4,10)"/><line x1="22" y1="14" x2="46" y2="30" stroke="#ffadd0" stroke-width="7"/><line x1="36" y1="36" x2="58" y2="22" stroke="#ffadd0" stroke-width="8"/></g>
<path d="M202.8,1663.4 Q176,1650 202.8,1636.6 L429.2,1523.4 Q456,1510 482.8,1523.4 L709.2,1636.6 Q736,1650 709.2,1663.4 L482.8,1776.6 Q456,1790 429.2,1776.6 Z" fill="#ffadd0" stroke="#717171" stroke-width="3"/><rect x="189.4" y="1530" width="533.2" height="120" fill="#ffadd0"/><path d="M202.8,1608.2 Q176,1594.8 202.8,1581.4 L429.2,1468.2 Q456,1454.8 482.8,1468.2 L709.2,1581.4 Q736,1594.8 709.2,1608.2 L482.8,1721.4 Q456,1734.8 429.2,1721.4 Z" fill="#ffadd0" stroke="#717171" stroke-width="2.2"/><rect x="189.4" y="1530" width="533.2" height="64.8" fill="#ffadd0"/><path d="M202.8,1602.2 Q176,1588.8 202.8,1575.4 L429.2,1462.2 Q456,1448.8 482.8,1462.2 L709.2,1575.4 Q736,1588.8 709.2,1602.2 L482.8,1715.4 Q456,1728.8 429.2,1715.4 Z" fill="#ffadd0" stroke="#717171" stroke-width="2.2"/><rect x="189.4" y="1530" width="533.2" height="58.8" fill="#ffadd0"/><line x1="189.4" y1="1530" x2="189.4" y2="1650" stroke="#717171" stroke-width="3" /><line x1="722.6" y1="1530" x2="722.6" y2="1650" stroke="#717171" stroke-width="3" /><path d="M202.8,1543.4 Q176,1530 202.8,1516.6 L429.2,1403.4 Q456,1390 482.8,1403.4 L709.2,1516.6 Q736,1530 709.2,1543.4 L482.8,1656.6 Q456,1670 429.2,1656.6 Z" fill="#ffd9e8" stroke="#717171" stroke-width="3"/><path d="M218.5,1536.3 Q206,1530 218.5,1523.7 L443.5,1411.3 Q456,1405 468.5,1411.3 L693.5,1523.7 Q706,1530 693.5,1536.3 L468.5,1648.7 Q456,1655 443.5,1648.7 Z" fill="#fff" stroke="#717171" stroke-width="3"/>
<g transform="matrix(1,0.5,0,1,205,1565)" ><rect x="0" y="0" width="229" height="72" fill="#fff" stroke="#717171" stroke-width="2.5"/><text x="114.5" y="59" font-size="64" fill="#e4007f" text-anchor="middle" class="b" textLength="207" lengthAdjust="spacingAndGlyphs" >マルチデバイス</text></g>
<g transform="matrix(1,0.5,-1,0.5,456,1528)"><rect x="-90" y="-91" width="118" height="165" rx="9" fill="#ffadd0"/><rect x="-81" y="-73" width="100" height="129" fill="#fff"/><circle cx="-31" cy="65" r="3.8" fill="#fff"/><circle cx="-31" cy="-82" r="2" fill="#fff"/><rect x="35" y="-40" width="62" height="105" rx="7" fill="#ffadd0"/><rect x="41" y="-28" width="50" height="78" fill="#fff"/><circle cx="66" cy="58" r="3" fill="#fff"/></g>
<path d="M771.8,1697.4 Q745,1684 771.8,1670.6 L1064.2,1524.4 Q1091,1511 1117.8,1524.4 L1410.2,1670.6 Q1437,1684 1410.2,1697.4 L1117.8,1843.6 Q1091,1857 1064.2,1843.6 Z" fill="#ffadd0" stroke="#717171" stroke-width="3"/><rect x="758.4" y="1532" width="665.2" height="152" fill="#ffadd0"/><path d="M771.8,1625.9 Q745,1612.5 771.8,1599.1 L1064.2,1452.9 Q1091,1439.5 1117.8,1452.9 L1410.2,1599.1 Q1437,1612.5 1410.2,1625.9 L1117.8,1772.1 Q1091,1785.5 1064.2,1772.1 Z" fill="#ffadd0" stroke="#717171" stroke-width="2.2"/><rect x="758.4" y="1532" width="665.2" height="80.5" fill="#ffadd0"/><path d="M771.8,1619.9 Q745,1606.5 771.8,1593.1 L1064.2,1446.9 Q1091,1433.5 1117.8,1446.9 L1410.2,1593.1 Q1437,1606.5 1410.2,1619.9 L1117.8,1766.1 Q1091,1779.5 1064.2,1766.1 Z" fill="#ffadd0" stroke="#717171" stroke-width="2.2"/><rect x="758.4" y="1532" width="665.2" height="74.5" fill="#ffadd0"/><line x1="758.4" y1="1532" x2="758.4" y2="1684" stroke="#717171" stroke-width="3" /><line x1="1423.6" y1="1532" x2="1423.6" y2="1684" stroke="#717171" stroke-width="3" /><path d="M771.8,1545.4 Q745,1532 771.8,1518.6 L1064.2,1372.4 Q1091,1359 1117.8,1372.4 L1410.2,1518.6 Q1437,1532 1410.2,1545.4 L1117.8,1691.6 Q1091,1705 1064.2,1691.6 Z" fill="#ffd9e8" stroke="#717171" stroke-width="3"/><path d="M787.5,1538.3 Q775,1532 787.5,1525.7 L1078.5,1380.3 Q1091,1374 1103.5,1380.3 L1394.5,1525.7 Q1407,1532 1394.5,1538.3 L1103.5,1683.7 Q1091,1690 1078.5,1683.7 Z" fill="#fff" stroke="#717171" stroke-width="3"/>
<g transform="matrix(1,0.5,0,1,777,1575)" ><rect x="0" y="0" width="286" height="95" fill="#fff" stroke="#717171" stroke-width="2.5"/><text x="143" y="69.8" font-size="62" fill="#e4007f" text-anchor="middle" class="b" textLength="262" lengthAdjust="spacingAndGlyphs" >コミュニケーションツール</text></g>
<g transform="translate(1081,1524) scale(1.08)"><path d="M-18,-62 C-70,-72 -118,-40 -98,-2 L-140,12 C-95,38 -60,50 -22,44" fill="none" stroke="#ffadd0" stroke-width="9"/><path d="M22,-70 C90,-70 150,-20 140,30 C132,70 60,72 30,62 L20,102 L-12,40 C-50,-10 -30,-70 22,-70 Z" fill="#fff" stroke="#ffadd0" stroke-width="9" stroke-linejoin="miter"/><ellipse cx="20" cy="-30" rx="12" ry="9" fill="#ffadd0"/><ellipse cx="52" cy="-4" rx="12" ry="9" fill="#ffadd0"/><ellipse cx="84" cy="22" rx="12" ry="9" fill="#ffadd0"/></g>
<path d="M1548.3,1290.4 L1601.3,1264.3 Q1605.2,1276.7 1603.5,1292.1 L1579.9,1304.9 Z" fill="#d9dcdc" stroke="#717171" stroke-width="2.5" stroke-linejoin="round"/><ellipse cx="1584.2" cy="1293" rx="6" ry="9" fill="#fff" stroke="#717171" stroke-width="2.2" transform="rotate(25 1584.2 1293)"/><path d="M1582.5,1307.5 L1632.9,1280.2 Q1638,1296.4 1634.6,1320.3 L1602.1,1336.5 Z" fill="#d9dcdc" stroke="#717171" stroke-width="2.5" stroke-linejoin="round"/><ellipse cx="1616.6" cy="1310" rx="6" ry="9" fill="#fff" stroke="#717171" stroke-width="2.2" transform="rotate(25 1616.6 1310)"/><path d="M1600.4,1323.7 C1592.7,1327.5 1566.8,1342.1 1554.3,1346.8 C1541.8,1351.5 1533.2,1349.2 1525.2,1351.9 C1517.2,1354.6 1510.1,1359.2 1506.4,1363 C1502.7,1366.8 1507.3,1371.9 1503,1375 C1498.7,1378.1 1484.5,1380.7 1480.8,1381.8 L1480.8,1434.8 C1484.5,1433.7 1498.7,1431.1 1503,1428 C1507.3,1424.9 1502.7,1419.8 1506.4,1416 C1510.1,1412.2 1517.2,1407.6 1525.2,1404.9 C1533.2,1402.2 1541.8,1404.5 1554.3,1399.8 C1566.8,1395.1 1592.7,1380.5 1600.4,1376.7 Z" fill="#ffadd0" stroke="#717171" stroke-width="3" stroke-linejoin="round"/><line x1="1503" y1="1375" x2="1503" y2="1428" stroke="#717171" stroke-width="2.5" /><polygon points="1397.9,1340.8 1480.8,1381.8 1480.8,1434.8 1397.9,1393.8" fill="#ffadd0" stroke="#717171" stroke-width="3" stroke-linejoin="round" /><path d="M1397.9,1340.8 C1400.6,1338.8 1406.4,1331.6 1414.2,1328.8 C1422,1326 1437.2,1326.2 1444.9,1323.7 C1452.6,1321.2 1457.2,1316.6 1460.3,1313.5 C1463.4,1310.4 1463.1,1306.3 1463.7,1304.9 L1509.8,1281.9 L1600.4,1323.7 C1592.7,1327.5 1566.8,1342.1 1554.3,1346.8 C1541.8,1351.5 1533.2,1349.2 1525.2,1351.9 C1517.2,1354.6 1510.1,1359.2 1506.4,1363 C1502.7,1366.8 1507.3,1371.9 1503,1375 C1498.7,1378.1 1484.5,1380.7 1480.8,1381.8 Z" fill="#ffd9e8" stroke="#717171" stroke-width="3" stroke-linejoin="round"/><ellipse cx="1436.4" cy="1392" rx="13" ry="15" fill="#c9688f"/>
<ellipse cx="1166" cy="1786" rx="13" ry="15" fill="#c9688f"/>
<path d="M1168,1788 C1175.4,1792 1189.4,1804.4 1212.3,1812.3 C1235.2,1820.2 1274.5,1834.8 1305.5,1835.6 C1336.5,1836.4 1367.5,1832.5 1398.6,1817 C1429.6,1801.5 1466.2,1774.3 1491.8,1742.5 C1517.4,1710.7 1546.1,1660.9 1552.3,1626 C1558.5,1591.1 1546.8,1561.6 1529,1532.9 C1511.2,1504.2 1466.4,1472.9 1445.2,1453.7 C1424,1434.5 1403.5,1428 1402,1418 C1400.5,1408 1430.3,1398 1436,1394" fill="none" stroke="#717171" stroke-width="28" stroke-linecap="round"/><path d="M1168,1788 C1175.4,1792 1189.4,1804.4 1212.3,1812.3 C1235.2,1820.2 1274.5,1834.8 1305.5,1835.6 C1336.5,1836.4 1367.5,1832.5 1398.6,1817 C1429.6,1801.5 1466.2,1774.3 1491.8,1742.5 C1517.4,1710.7 1546.1,1660.9 1552.3,1626 C1558.5,1591.1 1546.8,1561.6 1529,1532.9 C1511.2,1504.2 1466.4,1472.9 1445.2,1453.7 C1424,1434.5 1403.5,1428 1402,1418 C1400.5,1408 1430.3,1398 1436,1394" fill="none" stroke="#ffd9e8" stroke-width="22" stroke-linecap="round"/>
<path d="M2967.3,953.4 Q2940.5,940 2967.3,926.6 L3260.2,780.2 Q3287,766.8 3313.8,780.2 L3606.7,926.6 Q3633.5,940 3606.7,953.4 L3313.8,1099.8 Q3287,1113.2 3260.2,1099.8 Z" fill="#82d1f1" stroke="#717171" stroke-width="3"/><rect x="2953.9" y="792" width="666.2" height="148" fill="#82d1f1"/><path d="M2967.3,883.9 Q2940.5,870.5 2967.3,857.1 L3260.2,710.7 Q3287,697.3 3313.8,710.7 L3606.7,857.1 Q3633.5,870.5 3606.7,883.9 L3313.8,1030.4 Q3287,1043.8 3260.2,1030.4 Z" fill="#82d1f1" stroke="#717171" stroke-width="2.2"/><rect x="2953.9" y="792" width="666.2" height="78.5" fill="#82d1f1"/><path d="M2967.3,877.9 Q2940.5,864.5 2967.3,851.1 L3260.2,704.7 Q3287,691.3 3313.8,704.7 L3606.7,851.1 Q3633.5,864.5 3606.7,877.9 L3313.8,1024.4 Q3287,1037.8 3260.2,1024.4 Z" fill="#82d1f1" stroke="#717171" stroke-width="2.2"/><rect x="2953.9" y="792" width="666.2" height="72.5" fill="#82d1f1"/><line x1="2953.9" y1="792" x2="2953.9" y2="940" stroke="#717171" stroke-width="3" /><line x1="3620.1" y1="792" x2="3620.1" y2="940" stroke="#717171" stroke-width="3" /><path d="M2967.3,805.4 Q2940.5,792 2967.3,778.6 L3260.2,632.2 Q3287,618.8 3313.8,632.2 L3606.7,778.6 Q3633.5,792 3606.7,805.4 L3313.8,951.8 Q3287,965.2 3260.2,951.8 Z" fill="#b3e3f7" stroke="#717171" stroke-width="3"/><path d="M2983,798.3 Q2970.5,792 2983,785.7 L3274.5,640 Q3287,633.8 3299.5,640 L3591,785.7 Q3603.5,792 3591,798.3 L3299.5,944 Q3287,950.2 3274.5,944 Z" fill="#fff" stroke="#717171" stroke-width="3"/>
<g transform="matrix(1,-0.5,0,1,3322,970.5)" ><rect x="0" y="0" width="287.5" height="97" fill="#fff" stroke="#717171" stroke-width="2.5"/><text x="143.8" y="70.1" font-size="60" fill="#0095e6" text-anchor="middle" class="b" textLength="262" lengthAdjust="spacingAndGlyphs" >医事会計システム</text></g>
<g transform="matrix(1,0.5,-1,0.5,3231,808)"><rect x="-88" y="-52" width="176" height="104" rx="12" fill="#fff" stroke="#82d1f1" stroke-width="7"/><rect x="-72" y="-38" width="44" height="76" fill="#82d1f1"/><rect x="-14" y="14" width="13" height="12" fill="#82d1f1"/><rect x="-14" y="-7" width="13" height="12" fill="#82d1f1"/><rect x="-14" y="-28" width="13" height="12" fill="#82d1f1"/><rect x="-14" y="-49" width="13" height="12" fill="#82d1f1"/><rect x="9" y="14" width="13" height="12" fill="#82d1f1"/><rect x="9" y="-7" width="13" height="12" fill="#82d1f1"/><rect x="9" y="-28" width="13" height="12" fill="#82d1f1"/><rect x="9" y="-49" width="13" height="12" fill="#82d1f1"/><rect x="32" y="14" width="13" height="12" fill="#82d1f1"/><rect x="32" y="-7" width="13" height="12" fill="#82d1f1"/><rect x="32" y="-28" width="13" height="12" fill="#82d1f1"/><rect x="32" y="-49" width="13" height="12" fill="#82d1f1"/><rect x="55" y="-7" width="13" height="33" fill="#82d1f1"/><rect x="55" y="-28" width="13" height="12" fill="#82d1f1"/><rect x="55" y="-49" width="13" height="12" fill="#82d1f1"/></g><g transform="translate(3388,752)"><path d="M-42,-14 C-72,26 -44,54 0,54 C44,54 72,26 42,-14 C28,-34 -28,-34 -42,-14 Z" fill="#fff" stroke="#82d1f1" stroke-width="7"/><path d="M-46,-4 C-30,-38 30,-38 46,-4" fill="none" stroke="#82d1f1" stroke-width="7"/><circle cx="-9" cy="-42" r="8" fill="#fff" stroke="#82d1f1" stroke-width="6"/><circle cx="9" cy="-42" r="8" fill="#fff" stroke="#82d1f1" stroke-width="6"/></g>
<path d="M2780.7,1065.2 L2727.7,1039.1 Q2723.8,1051.5 2725.5,1066.9 L2749.1,1079.7 Z" fill="#d9dcdc" stroke="#717171" stroke-width="2.5" stroke-linejoin="round"/><ellipse cx="2744.8" cy="1067.8" rx="6" ry="9" fill="#fff" stroke="#717171" stroke-width="2.2" transform="rotate(-25 2744.8 1067.8)"/><path d="M2746.5,1082.3 L2696.1,1055 Q2691,1071.2 2694.4,1095.1 L2726.9,1111.3 Z" fill="#d9dcdc" stroke="#717171" stroke-width="2.5" stroke-linejoin="round"/><ellipse cx="2712.4" cy="1084.8" rx="6" ry="9" fill="#fff" stroke="#717171" stroke-width="2.2" transform="rotate(-25 2712.4 1084.8)"/><path d="M2728.6,1098.5 C2736.3,1102.3 2762.2,1116.9 2774.7,1121.6 C2787.2,1126.3 2795.8,1124 2803.8,1126.7 C2811.8,1129.4 2818.9,1134 2822.6,1137.8 C2826.3,1141.6 2821.7,1146.7 2826,1149.8 C2830.3,1152.9 2844.5,1155.5 2848.2,1156.6 L2848.2,1209.6 C2844.5,1208.5 2830.3,1205.9 2826,1202.8 C2821.7,1199.7 2826.3,1194.6 2822.6,1190.8 C2818.9,1187 2811.8,1182.4 2803.8,1179.7 C2795.8,1177 2787.2,1179.3 2774.7,1174.6 C2762.2,1169.9 2736.3,1155.3 2728.6,1151.5 Z" fill="#82d1f1" stroke="#717171" stroke-width="3" stroke-linejoin="round"/><line x1="2826" y1="1149.8" x2="2826" y2="1202.8" stroke="#717171" stroke-width="2.5" /><polygon points="2931.1,1115.6 2848.2,1156.6 2848.2,1209.6 2931.1,1168.6" fill="#82d1f1" stroke="#717171" stroke-width="3" stroke-linejoin="round" /><path d="M2931.1,1115.6 C2928.4,1113.6 2922.6,1106.4 2914.8,1103.6 C2907,1100.8 2891.8,1101 2884.1,1098.5 C2876.4,1096 2871.8,1091.4 2868.7,1088.3 C2865.6,1085.2 2865.9,1081.1 2865.3,1079.7 L2819.2,1056.7 L2728.6,1098.5 C2736.3,1102.3 2762.2,1116.9 2774.7,1121.6 C2787.2,1126.3 2795.8,1124 2803.8,1126.7 C2811.8,1129.4 2818.9,1134 2822.6,1137.8 C2826.3,1141.6 2821.7,1146.7 2826,1149.8 C2830.3,1152.9 2844.5,1155.5 2848.2,1156.6 Z" fill="#b3e3f7" stroke="#717171" stroke-width="3" stroke-linejoin="round"/><ellipse cx="2892.6" cy="1166.8" rx="13" ry="15" fill="#3a9cc4"/>
<ellipse cx="3229" cy="1049" rx="13" ry="15" fill="#3a9cc4"/>
<path d="M2893.6,1167.8 C2897.9,1171.9 2907.3,1182 2919.4,1192.3 C2931.5,1202.6 2946.6,1219.5 2966,1229.6 C2985.4,1239.7 3014.2,1252.9 3035.9,1252.9 C3057.7,1252.9 3079.4,1245.1 3096.5,1229.6 C3113.6,1214.1 3126.8,1183 3138.4,1159.7 C3150.1,1136.4 3151.6,1107.9 3166.4,1089.8 C3181.2,1071.7 3216.9,1057.5 3227,1051" fill="none" stroke="#717171" stroke-width="28" stroke-linecap="round"/><path d="M2893.6,1167.8 C2897.9,1171.9 2907.3,1182 2919.4,1192.3 C2931.5,1202.6 2946.6,1219.5 2966,1229.6 C2985.4,1239.7 3014.2,1252.9 3035.9,1252.9 C3057.7,1252.9 3079.4,1245.1 3096.5,1229.6 C3113.6,1214.1 3126.8,1183 3138.4,1159.7 C3150.1,1136.4 3151.6,1107.9 3166.4,1089.8 C3181.2,1071.7 3216.9,1057.5 3227,1051" fill="none" stroke="#d0eefa" stroke-width="22" stroke-linecap="round"/>
<path d="M3244.8,1334.4 Q3218,1321 3244.8,1307.6 L3537.2,1161.4 Q3564,1148 3590.8,1161.4 L3883.2,1307.6 Q3910,1321 3883.2,1334.4 L3590.8,1480.6 Q3564,1494 3537.2,1480.6 Z" fill="#82d1f1" stroke="#717171" stroke-width="3"/><rect x="3231.4" y="1172" width="665.2" height="149" fill="#82d1f1"/><path d="M3244.8,1264.4 Q3218,1251 3244.8,1237.6 L3537.2,1091.4 Q3564,1078 3590.8,1091.4 L3883.2,1237.6 Q3910,1251 3883.2,1264.4 L3590.8,1410.6 Q3564,1424 3537.2,1410.6 Z" fill="#82d1f1" stroke="#717171" stroke-width="2.2"/><rect x="3231.4" y="1172" width="665.2" height="79" fill="#82d1f1"/><path d="M3244.8,1258.4 Q3218,1245 3244.8,1231.6 L3537.2,1085.4 Q3564,1072 3590.8,1085.4 L3883.2,1231.6 Q3910,1245 3883.2,1258.4 L3590.8,1404.6 Q3564,1418 3537.2,1404.6 Z" fill="#82d1f1" stroke="#717171" stroke-width="2.2"/><rect x="3231.4" y="1172" width="665.2" height="73" fill="#82d1f1"/><line x1="3231.4" y1="1172" x2="3231.4" y2="1321" stroke="#717171" stroke-width="3" /><line x1="3896.6" y1="1172" x2="3896.6" y2="1321" stroke="#717171" stroke-width="3" /><path d="M3244.8,1185.4 Q3218,1172 3244.8,1158.6 L3537.2,1012.4 Q3564,999 3590.8,1012.4 L3883.2,1158.6 Q3910,1172 3883.2,1185.4 L3590.8,1331.6 Q3564,1345 3537.2,1331.6 Z" fill="#b3e3f7" stroke="#717171" stroke-width="3"/><path d="M3260.5,1178.3 Q3248,1172 3260.5,1165.7 L3551.5,1020.3 Q3564,1014 3576.5,1020.3 L3867.5,1165.7 Q3880,1172 3867.5,1178.3 L3576.5,1323.7 Q3564,1330 3551.5,1323.7 Z" fill="#fff" stroke="#717171" stroke-width="3"/>
<g transform="matrix(1,-0.5,0,1,3599,1351.7)" ><rect x="0" y="0" width="288.5" height="97" fill="#fff" stroke="#717171" stroke-width="2.5"/><text x="144.2" y="70.1" font-size="60" fill="#0095e6" text-anchor="middle" class="b" textLength="240" lengthAdjust="spacingAndGlyphs" >検査システム</text></g>
<path d="M65,-11.3 L65,11.3 L46.7,11.2 L40.9,25.1 L54,38 L38,54 L25.1,40.9 L11.2,46.7 L11.3,65 L-11.3,65 L-11.2,46.7 L-25.1,40.9 L-38,54 L-54,38 L-40.9,25.1 L-46.7,11.2 L-65,11.3 L-65,-11.3 L-46.7,-11.2 L-40.9,-25.1 L-54,-38 L-38,-54 L-25.1,-40.9 L-11.2,-46.7 L-11.3,-65 L11.3,-65 L11.2,-46.7 L25.1,-40.9 L38,-54 L54,-38 L40.9,-25.1 L46.7,-11.2 Z M20,0 A20,20 0 1 0 -20,0 A20,20 0 1 0 20,0 Z" fill="#82d1f1" fill-rule="evenodd" stroke="#82d1f1" stroke-width="6" stroke-linejoin="round" transform="matrix(1,0.0,0,0.82,3588,1108)"/><path d="M76.8,-13.4 L76.8,13.4 L54.5,13.1 L47.7,29.3 L63.8,44.9 L44.9,63.8 L29.3,47.7 L13.1,54.5 L13.4,76.8 L-13.4,76.8 L-13.1,54.5 L-29.3,47.7 L-44.9,63.8 L-63.8,44.9 L-47.7,29.3 L-54.5,13.1 L-76.8,13.4 L-76.8,-13.4 L-54.5,-13.1 L-47.7,-29.3 L-63.8,-44.9 L-44.9,-63.8 L-29.3,-47.7 L-13.1,-54.5 L-13.4,-76.8 L13.4,-76.8 L13.1,-54.5 L29.3,-47.7 L44.9,-63.8 L63.8,-44.9 L47.7,-29.3 L54.5,-13.1 Z M24,0 A24,24 0 1 0 -24,0 A24,24 0 1 0 24,0 Z" fill="#82d1f1" fill-rule="evenodd" stroke="#82d1f1" stroke-width="6" stroke-linejoin="round" transform="matrix(1,0,0,0.82,3531,1214) rotate(22)"/>
<path d="M2666.5,1122.3 L2613.5,1096.2 Q2609.6,1108.6 2611.3,1124 L2634.9,1136.8 Z" fill="#d9dcdc" stroke="#717171" stroke-width="2.5" stroke-linejoin="round"/><ellipse cx="2630.6" cy="1124.9" rx="6" ry="9" fill="#fff" stroke="#717171" stroke-width="2.2" transform="rotate(-25 2630.6 1124.9)"/><path d="M2632.3,1139.4 L2581.9,1112.1 Q2576.8,1128.3 2580.2,1152.2 L2612.7,1168.4 Z" fill="#d9dcdc" stroke="#717171" stroke-width="2.5" stroke-linejoin="round"/><ellipse cx="2598.2" cy="1141.9" rx="6" ry="9" fill="#fff" stroke="#717171" stroke-width="2.2" transform="rotate(-25 2598.2 1141.9)"/><path d="M2614.4,1155.6 C2622.1,1159.5 2648,1174 2660.5,1178.7 C2673,1183.4 2681.6,1181.1 2689.6,1183.8 C2697.6,1186.5 2704.7,1191.1 2708.4,1194.9 C2712.1,1198.8 2707.5,1203.8 2711.8,1206.9 C2716.1,1210 2730.3,1212.6 2734,1213.7 L2734,1266.7 C2730.3,1265.6 2716.1,1263 2711.8,1259.9 C2707.5,1256.8 2712.1,1251.8 2708.4,1247.9 C2704.7,1244.1 2697.6,1239.5 2689.6,1236.8 C2681.6,1234.1 2673,1236.4 2660.5,1231.7 C2648,1227 2622.1,1212.5 2614.4,1208.6 Z" fill="#82d1f1" stroke="#717171" stroke-width="3" stroke-linejoin="round"/><line x1="2711.8" y1="1206.9" x2="2711.8" y2="1259.9" stroke="#717171" stroke-width="2.5" /><polygon points="2816.9,1172.7 2734,1213.7 2734,1266.7 2816.9,1225.7" fill="#82d1f1" stroke="#717171" stroke-width="3" stroke-linejoin="round" /><path d="M2816.9,1172.7 C2814.2,1170.7 2808.4,1163.5 2800.6,1160.7 C2792.8,1157.9 2777.6,1158.2 2769.9,1155.6 C2762.2,1153.1 2757.6,1148.5 2754.5,1145.4 C2751.4,1142.3 2751.7,1138.2 2751.1,1136.8 L2705,1113.8 L2614.4,1155.6 C2622.1,1159.5 2648,1174 2660.5,1178.7 C2673,1183.4 2681.6,1181.1 2689.6,1183.8 C2697.6,1186.5 2704.7,1191.1 2708.4,1194.9 C2712.1,1198.8 2707.5,1203.8 2711.8,1206.9 C2716.1,1210 2730.3,1212.6 2734,1213.7 Z" fill="#b3e3f7" stroke="#717171" stroke-width="3" stroke-linejoin="round"/><ellipse cx="2778.4" cy="1223.9" rx="13" ry="15" fill="#3a9cc4"/>
<ellipse cx="3488" cy="1415" rx="13" ry="15" fill="#3a9cc4"/>
<path d="M2779.4,1224.9 C2784.1,1229.6 2795.1,1236.6 2807.5,1252.9 C2819.9,1269.2 2835.4,1301 2854.1,1322.8 C2872.8,1344.5 2889.1,1361.7 2919.4,1383.4 C2949.7,1405.2 2997.1,1432.3 3035.9,1453.3 C3074.7,1474.3 3120.6,1496.4 3152.4,1509.2 C3184.2,1522 3202.4,1527.9 3227,1530 C3251.6,1532.1 3270.7,1530.9 3300,1522 C3329.3,1513.1 3372,1494.1 3403,1476.6 C3434,1459.1 3472.2,1426.9 3486,1417" fill="none" stroke="#717171" stroke-width="28" stroke-linecap="round"/><path d="M2779.4,1224.9 C2784.1,1229.6 2795.1,1236.6 2807.5,1252.9 C2819.9,1269.2 2835.4,1301 2854.1,1322.8 C2872.8,1344.5 2889.1,1361.7 2919.4,1383.4 C2949.7,1405.2 2997.1,1432.3 3035.9,1453.3 C3074.7,1474.3 3120.6,1496.4 3152.4,1509.2 C3184.2,1522 3202.4,1527.9 3227,1530 C3251.6,1532.1 3270.7,1530.9 3300,1522 C3329.3,1513.1 3372,1494.1 3403,1476.6 C3434,1459.1 3472.2,1426.9 3486,1417" fill="none" stroke="#d0eefa" stroke-width="22" stroke-linecap="round"/>
<path d="M2368.8,1726.4 Q2342,1713 2368.8,1699.6 L2556.2,1605.9 Q2583,1592.5 2609.8,1605.9 L2797.2,1699.6 Q2824,1713 2797.2,1726.4 L2609.8,1820.1 Q2583,1833.5 2556.2,1820.1 Z" fill="#fedd8a" stroke="#717171" stroke-width="3"/><rect x="2355.4" y="1641" width="455.2" height="72" fill="#fedd8a"/><line x1="2355.4" y1="1641" x2="2355.4" y2="1713" stroke="#717171" stroke-width="3" /><line x1="2810.6" y1="1641" x2="2810.6" y2="1713" stroke="#717171" stroke-width="3" /><path d="M2368.8,1654.4 Q2342,1641 2368.8,1627.6 L2556.2,1533.9 Q2583,1520.5 2609.8,1533.9 L2797.2,1627.6 Q2824,1641 2797.2,1654.4 L2609.8,1748.1 Q2583,1761.5 2556.2,1748.1 Z" fill="#fff0cc" stroke="#717171" stroke-width="3"/>
<path d="M2430.6,1396.7 L2430.6,1629.5 A152,77 0 0 0 2734.6,1629.5 L2734.6,1396.7 Z" fill="#fedd8a" stroke="#717171" stroke-width="3"/>
<clipPath id="cylclip"><path d="M2430.6,1396.7 L2430.6,1629.5 A152,77 0 0 0 2734.6,1629.5 L2734.6,1396.7 Z"/></clipPath><g clip-path="url(#cylclip)">
<path d="M2422.6,1456 L2430.6,1470 A152,77 0 0 0 2734.6,1470 L2742.6,1456" fill="none" stroke="#717171" stroke-width="13"/>
<path d="M2422.6,1456 L2430.6,1470 A152,77 0 0 0 2734.6,1470 L2742.6,1456" fill="none" stroke="#fff0cc" stroke-width="8"/>
<path d="M2422.6,1535 L2430.6,1549 A152,77 0 0 0 2734.6,1549 L2742.6,1535" fill="none" stroke="#717171" stroke-width="13"/>
<path d="M2422.6,1535 L2430.6,1549 A152,77 0 0 0 2734.6,1549 L2742.6,1535" fill="none" stroke="#fff0cc" stroke-width="8"/>
</g>
<path d="M2430.6,1396.7 L2430.6,1629.5 A152,77 0 0 0 2734.6,1629.5 L2734.6,1396.7 Z" fill="none" stroke="#717171" stroke-width="3"/>
<ellipse cx="2582.6" cy="1396.7" rx="152" ry="77" fill="#fff0cc" stroke="#717171" stroke-width="3"/>
<path d="M2209.6,1353.6 L2156.6,1327.5 Q2152.7,1339.9 2154.4,1355.3 L2178,1368.1 Z" fill="#d9dcdc" stroke="#717171" stroke-width="2.5" stroke-linejoin="round"/><ellipse cx="2173.7" cy="1356.2" rx="6" ry="9" fill="#fff" stroke="#717171" stroke-width="2.2" transform="rotate(-25 2173.7 1356.2)"/><path d="M2175.4,1370.7 L2125,1343.4 Q2119.9,1359.6 2123.3,1383.5 L2155.8,1399.7 Z" fill="#d9dcdc" stroke="#717171" stroke-width="2.5" stroke-linejoin="round"/><ellipse cx="2141.3" cy="1373.2" rx="6" ry="9" fill="#fff" stroke="#717171" stroke-width="2.2" transform="rotate(-25 2141.3 1373.2)"/><path d="M2157.5,1386.9 C2165.2,1390.8 2191.1,1405.3 2203.6,1410 C2216.1,1414.7 2224.7,1412.4 2232.7,1415.1 C2240.7,1417.8 2247.8,1422.4 2251.5,1426.2 C2255.2,1430 2250.6,1435.1 2254.9,1438.2 C2259.2,1441.3 2273.4,1443.9 2277.1,1445 L2277.1,1498 C2273.4,1496.9 2259.2,1494.3 2254.9,1491.2 C2250.6,1488.1 2255.2,1483 2251.5,1479.2 C2247.8,1475.4 2240.7,1470.8 2232.7,1468.1 C2224.7,1465.4 2216.1,1467.7 2203.6,1463 C2191.1,1458.3 2165.2,1443.8 2157.5,1439.9 Z" fill="#fedd8a" stroke="#717171" stroke-width="3" stroke-linejoin="round"/><line x1="2254.9" y1="1438.2" x2="2254.9" y2="1491.2" stroke="#717171" stroke-width="2.5" /><polygon points="2360,1404 2277.1,1445 2277.1,1498 2360,1457" fill="#fedd8a" stroke="#717171" stroke-width="3" stroke-linejoin="round" /><path d="M2360,1404 C2357.3,1402 2351.5,1394.8 2343.7,1392 C2335.9,1389.2 2320.7,1389.5 2313,1386.9 C2305.3,1384.4 2300.7,1379.8 2297.6,1376.7 C2294.5,1373.6 2294.8,1369.5 2294.2,1368.1 L2248.1,1345.1 L2157.5,1386.9 C2165.2,1390.8 2191.1,1405.3 2203.6,1410 C2216.1,1414.7 2224.7,1412.4 2232.7,1415.1 C2240.7,1417.8 2247.8,1422.4 2251.5,1426.2 C2255.2,1430 2250.6,1435.1 2254.9,1438.2 C2259.2,1441.3 2273.4,1443.9 2277.1,1445 Z" fill="#fff0cc" stroke="#717171" stroke-width="3" stroke-linejoin="round"/><ellipse cx="2321.5" cy="1455.2" rx="13" ry="15" fill="#f5a800"/>
<ellipse cx="2476" cy="1730" rx="13" ry="15" fill="#f5a800"/>
<path d="M2322.5,1456.2 C2327.8,1459.9 2343.6,1465.6 2354.3,1478.3 C2365.1,1491 2383.4,1511.8 2387,1532.6 C2390.6,1553.4 2389.6,1581.6 2376,1603.3 C2362.4,1625 2320.8,1643.1 2305.4,1663 C2290,1682.9 2279.2,1705.6 2283.7,1722.8 C2288.2,1740 2309.9,1760.9 2332.6,1766.3 C2355.2,1771.7 2396,1761.1 2419.6,1755.4 C2443.2,1749.7 2464.9,1735.9 2474,1732" fill="none" stroke="#717171" stroke-width="28" stroke-linecap="round"/><path d="M2322.5,1456.2 C2327.8,1459.9 2343.6,1465.6 2354.3,1478.3 C2365.1,1491 2383.4,1511.8 2387,1532.6 C2390.6,1553.4 2389.6,1581.6 2376,1603.3 C2362.4,1625 2320.8,1643.1 2305.4,1663 C2290,1682.9 2279.2,1705.6 2283.7,1722.8 C2288.2,1740 2309.9,1760.9 2332.6,1766.3 C2355.2,1771.7 2396,1761.1 2419.6,1755.4 C2443.2,1749.7 2464.9,1735.9 2474,1732" fill="none" stroke="#fff0cc" stroke-width="22" stroke-linecap="round"/>
<path d="M2506.3,1412.3 A65,65 0 1 1 2533.2,1392 L2547,1416 Z" fill="#ff9100"/><text x="2482" y="1374.3" font-size="62" fill="#fff" text-anchor="middle" class="b" >AI</text>
<path d="M2724.3,1537 A65,65 0 1 1 2751.2,1557.3 L2710,1561 Z" fill="#ff9100"/><text x="2775.5" y="1519.3" font-size="62" fill="#fff" text-anchor="middle" class="b" >BI</text>
<path d="M2642,1664 L2690,1668.5 L2816,1668.5 Q2854,1668.5 2854,1706.5 L2854,1774.5 Q2854,1812.5 2816,1812.5 L2683,1812.5 Q2645,1812.5 2645,1774.5 L2645,1706 Z" fill="#ff9100"/>
<text x="2750" y="1709" font-size="32" fill="#fff" text-anchor="middle" class="b" textLength="86" lengthAdjust="spacingAndGlyphs" >NCNP</text>
<text x="2750" y="1750" font-size="32" fill="#fff" text-anchor="middle" class="b" textLength="128" lengthAdjust="spacingAndGlyphs" >精神疾患</text>
<text x="2750" y="1789" font-size="32" fill="#fff" text-anchor="middle" class="b" textLength="132" lengthAdjust="spacingAndGlyphs" >レジストリ</text>
<path d="M2833.7,79.8 A209,209 0 1 1 2869.2,401.3" fill="none" stroke="#1a9fad" stroke-width="6" stroke-linecap="round" stroke-dasharray="0 14.75"/>
<text x="2997" y="187" font-size="50" fill="#333" text-anchor="middle" class="b" textLength="301" lengthAdjust="spacingAndGlyphs" >今後生まれる</text>
<g transform="translate(2841.5,270)" ><title>Waroku</title><text x="-0.6" y="7.2" font-size="97.2" fill="#00a3af" text-anchor="start" textLength="88.2" lengthAdjust="spacingAndGlyphs" >W</text><text x="83.4" y="0" font-size="83.8" fill="#00a3af" text-anchor="start" textLength="78.6" lengthAdjust="spacingAndGlyphs" >ar</text><use href="#mark" transform="translate(194.7,-21.4) scale(0.288)"/><text x="230.4" y="0" font-size="83.8" fill="#00a3af" text-anchor="start" textLength="81.6" lengthAdjust="spacingAndGlyphs" >ku</text></g>
<text x="2855" y="325" font-size="45" fill="#00a3af" text-anchor="start" textLength="303" lengthAdjust="spacingAndGlyphs" >Something....</text>
</svg>
</body></html>
